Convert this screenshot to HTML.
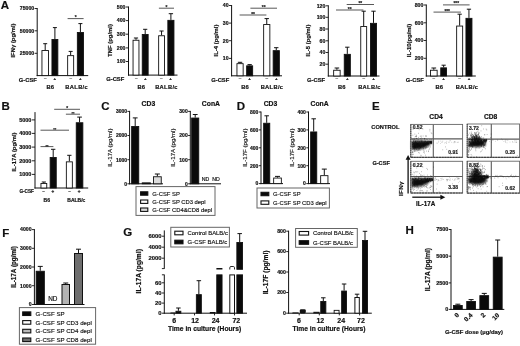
<!DOCTYPE html>
<html><head><meta charset="utf-8"><title>Figure</title>
<style>
html,body{margin:0;padding:0;background:#fff;}
body{width:520px;height:346px;overflow:hidden;}
svg{display:block;font-family:"Liberation Sans", Arial, sans-serif;}
</style></head><body>
<svg width="520" height="346" viewBox="0 0 520 346" style="filter:blur(0.35px)">
<defs><filter id="bl" x="-20%" y="-50%" width="140%" height="200%"><feGaussianBlur stdDeviation="0.85"/></filter></defs>
<rect x="0" y="0" width="520" height="346" fill="#fff"/>
<text x="0.8" y="9.0" font-size="11.5" font-weight="bold" text-anchor="start" fill="#111" stroke="#111" stroke-width="0.18">A</text>
<line x1="37.2" y1="8.0" x2="37.2" y2="76.1" stroke="#111" stroke-width="1"/>
<line x1="36.7" y1="75.6" x2="88.2" y2="75.6" stroke="#111" stroke-width="1"/>
<line x1="34.6" y1="8.5" x2="37.2" y2="8.5" stroke="#111" stroke-width="0.9"/>
<text x="34.2" y="10.372" font-size="5.2" font-weight="bold" text-anchor="end" fill="#111" stroke="#111" stroke-width="0.18">75000</text>
<line x1="34.6" y1="30.8" x2="37.2" y2="30.8" stroke="#111" stroke-width="0.9"/>
<text x="34.2" y="32.672" font-size="5.2" font-weight="bold" text-anchor="end" fill="#111" stroke="#111" stroke-width="0.18">50000</text>
<line x1="34.6" y1="53.3" x2="37.2" y2="53.3" stroke="#111" stroke-width="0.9"/>
<text x="34.2" y="55.172" font-size="5.2" font-weight="bold" text-anchor="end" fill="#111" stroke="#111" stroke-width="0.18">25000</text>
<line x1="45.2" y1="50.1" x2="45.2" y2="43.7" stroke="#111" stroke-width="1.0"/>
<line x1="43.2" y1="43.7" x2="47.2" y2="43.7" stroke="#111" stroke-width="1.0"/>
<rect x="41.95" y="50.55" width="6.50" height="25.05" fill="#fff" stroke="#111" stroke-width="0.9"/>
<line x1="54.9" y1="39" x2="54.9" y2="27.6" stroke="#111" stroke-width="1.0"/>
<line x1="52.9" y1="27.6" x2="56.9" y2="27.6" stroke="#111" stroke-width="1.0"/>
<rect x="51.95" y="39.45" width="5.90" height="36.15" fill="#0a0a0a" stroke="#111" stroke-width="0.9"/>
<line x1="70.65" y1="55.2" x2="70.65" y2="51.4" stroke="#111" stroke-width="1.0"/>
<line x1="68.65" y1="51.4" x2="72.65" y2="51.4" stroke="#111" stroke-width="1.0"/>
<rect x="67.65" y="55.65" width="6.00" height="19.95" fill="#fff" stroke="#111" stroke-width="0.9"/>
<line x1="80.4" y1="32" x2="80.4" y2="23.6" stroke="#111" stroke-width="1.0"/>
<line x1="78.4" y1="23.6" x2="82.4" y2="23.6" stroke="#111" stroke-width="1.0"/>
<rect x="77.35" y="32.45" width="6.10" height="43.15" fill="#0a0a0a" stroke="#111" stroke-width="0.9"/>
<text x="15.2" y="40.5" font-size="5.9" font-weight="bold" text-anchor="middle" fill="#111" stroke="#111" stroke-width="0.18" transform="rotate(-90 15.2 40.5)">IFNγ (pg/ml)</text>
<text x="18.8" y="81.8" font-size="5.8" font-weight="bold" text-anchor="start" fill="#111" stroke="#111" stroke-width="0.18">G-CSF</text>
<text x="45.2" y="80.2" font-size="4.6" font-weight="normal" text-anchor="middle" fill="#777" stroke="#777" stroke-width="0.18">–</text>
<text x="54.8" y="80.0" font-size="4.4" font-weight="bold" text-anchor="middle" fill="#111" stroke="#111" stroke-width="0.18">+</text>
<text x="70.8" y="80.2" font-size="4.6" font-weight="normal" text-anchor="middle" fill="#777" stroke="#777" stroke-width="0.18">–</text>
<text x="80.4" y="80.0" font-size="4.4" font-weight="bold" text-anchor="middle" fill="#111" stroke="#111" stroke-width="0.18">+</text>
<text x="50.3" y="88.8" font-size="5.8" font-weight="bold" text-anchor="middle" fill="#111" stroke="#111" stroke-width="0.18">B6</text>
<text x="76.7" y="88.8" font-size="5.8" font-weight="bold" text-anchor="middle" fill="#111" stroke="#111" stroke-width="0.18" letter-spacing="0.3">BALB/c</text>
<line x1="67.6" y1="18.6" x2="83.6" y2="18.6" stroke="#3a3a3a" stroke-width="0.85"/>
<text x="75.6" y="19.1" font-size="4.8" font-weight="bold" text-anchor="middle" fill="#222" stroke="#222" stroke-width="0.18">*</text>
<line x1="128.5" y1="6.5" x2="128.5" y2="75.6" stroke="#111" stroke-width="1"/>
<line x1="128.0" y1="75.1" x2="177.5" y2="75.1" stroke="#111" stroke-width="1"/>
<line x1="125.9" y1="7" x2="128.5" y2="7" stroke="#111" stroke-width="0.9"/>
<text x="125.5" y="8.872" font-size="5.2" font-weight="bold" text-anchor="end" fill="#111" stroke="#111" stroke-width="0.18">500</text>
<line x1="125.9" y1="20.6" x2="128.5" y2="20.6" stroke="#111" stroke-width="0.9"/>
<text x="125.5" y="22.472" font-size="5.2" font-weight="bold" text-anchor="end" fill="#111" stroke="#111" stroke-width="0.18">400</text>
<line x1="125.9" y1="34.2" x2="128.5" y2="34.2" stroke="#111" stroke-width="0.9"/>
<text x="125.5" y="36.072" font-size="5.2" font-weight="bold" text-anchor="end" fill="#111" stroke="#111" stroke-width="0.18">300</text>
<line x1="125.9" y1="47.9" x2="128.5" y2="47.9" stroke="#111" stroke-width="0.9"/>
<text x="125.5" y="49.772" font-size="5.2" font-weight="bold" text-anchor="end" fill="#111" stroke="#111" stroke-width="0.18">200</text>
<line x1="125.9" y1="61.5" x2="128.5" y2="61.5" stroke="#111" stroke-width="0.9"/>
<text x="125.5" y="63.372" font-size="5.2" font-weight="bold" text-anchor="end" fill="#111" stroke="#111" stroke-width="0.18">100</text>
<line x1="136.0" y1="39.8" x2="136.0" y2="38" stroke="#111" stroke-width="1.0"/>
<line x1="133.892" y1="38" x2="138.108" y2="38" stroke="#111" stroke-width="1.0"/>
<rect x="133.05" y="40.25" width="5.90" height="34.85" fill="#fff" stroke="#111" stroke-width="0.9"/>
<line x1="145.2" y1="34" x2="145.2" y2="29.3" stroke="#111" stroke-width="1.0"/>
<line x1="143.09199999999998" y1="29.3" x2="147.308" y2="29.3" stroke="#111" stroke-width="1.0"/>
<rect x="142.25" y="34.45" width="5.90" height="40.65" fill="#0a0a0a" stroke="#111" stroke-width="0.9"/>
<line x1="161.55" y1="35.3" x2="161.55" y2="31" stroke="#111" stroke-width="1.0"/>
<line x1="159.473" y1="31" x2="163.627" y2="31" stroke="#111" stroke-width="1.0"/>
<rect x="158.65" y="35.75" width="5.80" height="39.35" fill="#fff" stroke="#111" stroke-width="0.9"/>
<line x1="170.9" y1="19.9" x2="170.9" y2="13.7" stroke="#111" stroke-width="1.0"/>
<line x1="168.73000000000002" y1="13.7" x2="173.07" y2="13.7" stroke="#111" stroke-width="1.0"/>
<rect x="167.85" y="20.35" width="6.10" height="54.75" fill="#0a0a0a" stroke="#111" stroke-width="0.9"/>
<text x="111.6" y="40.5" font-size="5.9" font-weight="bold" text-anchor="middle" fill="#111" stroke="#111" stroke-width="0.18" transform="rotate(-90 111.6 40.5)">TNF (pg/ml)</text>
<text x="106.2" y="81" font-size="5.8" font-weight="bold" text-anchor="start" fill="#111" stroke="#111" stroke-width="0.18">G-CSF</text>
<text x="136.2" y="80.2" font-size="4.6" font-weight="normal" text-anchor="middle" fill="#777" stroke="#777" stroke-width="0.18">–</text>
<text x="145.2" y="80.0" font-size="4.4" font-weight="bold" text-anchor="middle" fill="#111" stroke="#111" stroke-width="0.18">+</text>
<text x="161.4" y="80.2" font-size="4.6" font-weight="normal" text-anchor="middle" fill="#777" stroke="#777" stroke-width="0.18">–</text>
<text x="170.6" y="80.0" font-size="4.4" font-weight="bold" text-anchor="middle" fill="#111" stroke="#111" stroke-width="0.18">+</text>
<text x="141.3" y="88.8" font-size="5.8" font-weight="bold" text-anchor="middle" fill="#111" stroke="#111" stroke-width="0.18">B6</text>
<text x="166.5" y="88.8" font-size="5.8" font-weight="bold" text-anchor="middle" fill="#111" stroke="#111" stroke-width="0.18" letter-spacing="0.3">BALB/c</text>
<line x1="158.9" y1="8.2" x2="174" y2="8.2" stroke="#3a3a3a" stroke-width="0.85"/>
<text x="166.45" y="8.7" font-size="4.8" font-weight="bold" text-anchor="middle" fill="#222" stroke="#222" stroke-width="0.18">*</text>
<line x1="231.6" y1="5.0" x2="231.6" y2="76.3" stroke="#111" stroke-width="1"/>
<line x1="231.1" y1="75.8" x2="282" y2="75.8" stroke="#111" stroke-width="1"/>
<line x1="229.0" y1="5.5" x2="231.6" y2="5.5" stroke="#111" stroke-width="0.9"/>
<text x="228.6" y="7.372" font-size="5.2" font-weight="bold" text-anchor="end" fill="#111" stroke="#111" stroke-width="0.18">40</text>
<line x1="229.0" y1="23.1" x2="231.6" y2="23.1" stroke="#111" stroke-width="0.9"/>
<text x="228.6" y="24.972" font-size="5.2" font-weight="bold" text-anchor="end" fill="#111" stroke="#111" stroke-width="0.18">30</text>
<line x1="229.0" y1="40.7" x2="231.6" y2="40.7" stroke="#111" stroke-width="0.9"/>
<text x="228.6" y="42.572" font-size="5.2" font-weight="bold" text-anchor="end" fill="#111" stroke="#111" stroke-width="0.18">20</text>
<line x1="229.0" y1="58.4" x2="231.6" y2="58.4" stroke="#111" stroke-width="0.9"/>
<text x="228.6" y="60.272" font-size="5.2" font-weight="bold" text-anchor="end" fill="#111" stroke="#111" stroke-width="0.18">10</text>
<line x1="240.05" y1="63.2" x2="240.05" y2="62.3" stroke="#111" stroke-width="1.0"/>
<line x1="237.84900000000002" y1="62.3" x2="242.251" y2="62.3" stroke="#111" stroke-width="1.0"/>
<rect x="236.95" y="63.65" width="6.20" height="12.15" fill="#fff" stroke="#111" stroke-width="0.9"/>
<line x1="249.64999999999998" y1="65.4" x2="249.64999999999998" y2="64.6" stroke="#111" stroke-width="1.0"/>
<line x1="247.51099999999997" y1="64.6" x2="251.789" y2="64.6" stroke="#111" stroke-width="1.0"/>
<rect x="246.65" y="65.85" width="6.00" height="9.95" fill="#0a0a0a" stroke="#111" stroke-width="0.9"/>
<line x1="266.75" y1="24.1" x2="266.75" y2="18.6" stroke="#111" stroke-width="1.0"/>
<line x1="264.549" y1="18.6" x2="268.951" y2="18.6" stroke="#111" stroke-width="1.0"/>
<rect x="263.65" y="24.55" width="6.20" height="51.25" fill="#fff" stroke="#111" stroke-width="0.9"/>
<line x1="276.25" y1="50.2" x2="276.25" y2="47.7" stroke="#111" stroke-width="1.0"/>
<line x1="274.049" y1="47.7" x2="278.451" y2="47.7" stroke="#111" stroke-width="1.0"/>
<rect x="273.15" y="50.65" width="6.20" height="25.15" fill="#0a0a0a" stroke="#111" stroke-width="0.9"/>
<text x="218.4" y="40.5" font-size="5.9" font-weight="bold" text-anchor="middle" fill="#111" stroke="#111" stroke-width="0.18" transform="rotate(-90 218.4 40.5)">IL-4 (pg/ml)</text>
<text x="211.2" y="82" font-size="5.8" font-weight="bold" text-anchor="start" fill="#111" stroke="#111" stroke-width="0.18">G-CSF</text>
<text x="240.1" y="80.2" font-size="4.6" font-weight="normal" text-anchor="middle" fill="#777" stroke="#777" stroke-width="0.18">–</text>
<text x="249.6" y="80.0" font-size="4.4" font-weight="bold" text-anchor="middle" fill="#111" stroke="#111" stroke-width="0.18">+</text>
<text x="266.7" y="80.2" font-size="4.6" font-weight="normal" text-anchor="middle" fill="#777" stroke="#777" stroke-width="0.18">–</text>
<text x="276.3" y="80.0" font-size="4.4" font-weight="bold" text-anchor="middle" fill="#111" stroke="#111" stroke-width="0.18">+</text>
<text x="245" y="88.8" font-size="5.8" font-weight="bold" text-anchor="middle" fill="#111" stroke="#111" stroke-width="0.18">B6</text>
<text x="272" y="88.8" font-size="5.8" font-weight="bold" text-anchor="middle" fill="#111" stroke="#111" stroke-width="0.18" letter-spacing="0.3">BALB/c</text>
<line x1="239.6" y1="15" x2="266.4" y2="15" stroke="#3a3a3a" stroke-width="0.85"/>
<text x="253.0" y="15.5" font-size="4.8" font-weight="bold" text-anchor="middle" fill="#222" stroke="#222" stroke-width="0.18">**</text>
<line x1="250.4" y1="8.2" x2="277" y2="8.2" stroke="#3a3a3a" stroke-width="0.85"/>
<text x="263.7" y="8.7" font-size="4.8" font-weight="bold" text-anchor="middle" fill="#222" stroke="#222" stroke-width="0.18">**</text>
<line x1="328.3" y1="5.3" x2="328.3" y2="76.5" stroke="#111" stroke-width="1"/>
<line x1="327.8" y1="76" x2="379.5" y2="76" stroke="#111" stroke-width="1"/>
<line x1="325.7" y1="5.8" x2="328.3" y2="5.8" stroke="#111" stroke-width="0.9"/>
<text x="325.3" y="7.672" font-size="5.2" font-weight="bold" text-anchor="end" fill="#111" stroke="#111" stroke-width="0.18">120</text>
<line x1="325.7" y1="17.3" x2="328.3" y2="17.3" stroke="#111" stroke-width="0.9"/>
<text x="325.3" y="19.172" font-size="5.2" font-weight="bold" text-anchor="end" fill="#111" stroke="#111" stroke-width="0.18">100</text>
<line x1="325.7" y1="29" x2="328.3" y2="29" stroke="#111" stroke-width="0.9"/>
<text x="325.3" y="30.872" font-size="5.2" font-weight="bold" text-anchor="end" fill="#111" stroke="#111" stroke-width="0.18">80</text>
<line x1="325.7" y1="40.8" x2="328.3" y2="40.8" stroke="#111" stroke-width="0.9"/>
<text x="325.3" y="42.672" font-size="5.2" font-weight="bold" text-anchor="end" fill="#111" stroke="#111" stroke-width="0.18">60</text>
<line x1="325.7" y1="52.5" x2="328.3" y2="52.5" stroke="#111" stroke-width="0.9"/>
<text x="325.3" y="54.372" font-size="5.2" font-weight="bold" text-anchor="end" fill="#111" stroke="#111" stroke-width="0.18">40</text>
<line x1="325.7" y1="64.2" x2="328.3" y2="64.2" stroke="#111" stroke-width="0.9"/>
<text x="325.3" y="66.072" font-size="5.2" font-weight="bold" text-anchor="end" fill="#111" stroke="#111" stroke-width="0.18">20</text>
<line x1="336.9" y1="69.8" x2="336.9" y2="68" stroke="#111" stroke-width="1.0"/>
<line x1="334.606" y1="68" x2="339.19399999999996" y2="68" stroke="#111" stroke-width="1.0"/>
<rect x="333.65" y="70.25" width="6.50" height="5.75" fill="#fff" stroke="#111" stroke-width="0.9"/>
<line x1="347.3" y1="53.9" x2="347.3" y2="47.2" stroke="#111" stroke-width="1.0"/>
<line x1="345.13" y1="47.2" x2="349.47" y2="47.2" stroke="#111" stroke-width="1.0"/>
<rect x="344.25" y="54.35" width="6.10" height="21.65" fill="#0a0a0a" stroke="#111" stroke-width="0.9"/>
<line x1="363.70000000000005" y1="26.1" x2="363.70000000000005" y2="11.2" stroke="#111" stroke-width="1.0"/>
<line x1="361.59200000000004" y1="11.2" x2="365.80800000000005" y2="11.2" stroke="#111" stroke-width="1.0"/>
<rect x="360.75" y="26.55" width="5.90" height="49.45" fill="#fff" stroke="#111" stroke-width="0.9"/>
<line x1="373.5" y1="22.9" x2="373.5" y2="11.2" stroke="#111" stroke-width="1.0"/>
<line x1="371.33" y1="11.2" x2="375.67" y2="11.2" stroke="#111" stroke-width="1.0"/>
<rect x="370.45" y="23.35" width="6.10" height="52.65" fill="#0a0a0a" stroke="#111" stroke-width="0.9"/>
<text x="309.8" y="40.5" font-size="5.9" font-weight="bold" text-anchor="middle" fill="#111" stroke="#111" stroke-width="0.18" transform="rotate(-90 309.8 40.5)">IL-5 (pg/ml)</text>
<text x="307" y="82" font-size="5.8" font-weight="bold" text-anchor="start" fill="#111" stroke="#111" stroke-width="0.18">G-CSF</text>
<text x="336.9" y="80.2" font-size="4.6" font-weight="normal" text-anchor="middle" fill="#777" stroke="#777" stroke-width="0.18">–</text>
<text x="347.3" y="80.0" font-size="4.4" font-weight="bold" text-anchor="middle" fill="#111" stroke="#111" stroke-width="0.18">+</text>
<text x="363.7" y="80.2" font-size="4.6" font-weight="normal" text-anchor="middle" fill="#777" stroke="#777" stroke-width="0.18">–</text>
<text x="373.5" y="80.0" font-size="4.4" font-weight="bold" text-anchor="middle" fill="#111" stroke="#111" stroke-width="0.18">+</text>
<text x="341.8" y="88.8" font-size="5.8" font-weight="bold" text-anchor="middle" fill="#111" stroke="#111" stroke-width="0.18">B6</text>
<text x="369.5" y="88.8" font-size="5.8" font-weight="bold" text-anchor="middle" fill="#111" stroke="#111" stroke-width="0.18" letter-spacing="0.3">BALB/c</text>
<line x1="336" y1="10" x2="363.4" y2="10" stroke="#3a3a3a" stroke-width="0.85"/>
<text x="349.7" y="10.5" font-size="4.8" font-weight="bold" text-anchor="middle" fill="#222" stroke="#222" stroke-width="0.18">**</text>
<line x1="346.7" y1="4.5" x2="374" y2="4.5" stroke="#3a3a3a" stroke-width="0.85"/>
<text x="360.35" y="5.0" font-size="4.8" font-weight="bold" text-anchor="middle" fill="#222" stroke="#222" stroke-width="0.18">**</text>
<line x1="426.3" y1="4.5" x2="426.3" y2="76.5" stroke="#111" stroke-width="1"/>
<line x1="425.8" y1="76" x2="475.8" y2="76" stroke="#111" stroke-width="1"/>
<line x1="423.7" y1="5" x2="426.3" y2="5" stroke="#111" stroke-width="0.9"/>
<text x="423.3" y="6.872" font-size="5.2" font-weight="bold" text-anchor="end" fill="#111" stroke="#111" stroke-width="0.18">800</text>
<line x1="423.7" y1="22.8" x2="426.3" y2="22.8" stroke="#111" stroke-width="0.9"/>
<text x="423.3" y="24.672" font-size="5.2" font-weight="bold" text-anchor="end" fill="#111" stroke="#111" stroke-width="0.18">600</text>
<line x1="423.7" y1="40.5" x2="426.3" y2="40.5" stroke="#111" stroke-width="0.9"/>
<text x="423.3" y="42.372" font-size="5.2" font-weight="bold" text-anchor="end" fill="#111" stroke="#111" stroke-width="0.18">400</text>
<line x1="423.7" y1="58.3" x2="426.3" y2="58.3" stroke="#111" stroke-width="0.9"/>
<text x="423.3" y="60.172" font-size="5.2" font-weight="bold" text-anchor="end" fill="#111" stroke="#111" stroke-width="0.18">200</text>
<line x1="433.8" y1="69.8" x2="433.8" y2="68" stroke="#111" stroke-width="1.0"/>
<line x1="431.444" y1="68" x2="436.156" y2="68" stroke="#111" stroke-width="1.0"/>
<rect x="430.45" y="70.25" width="6.70" height="5.75" fill="#fff" stroke="#111" stroke-width="0.9"/>
<line x1="443.65" y1="67.4" x2="443.65" y2="65.2" stroke="#111" stroke-width="1.0"/>
<line x1="441.573" y1="65.2" x2="445.727" y2="65.2" stroke="#111" stroke-width="1.0"/>
<rect x="440.75" y="67.85" width="5.80" height="8.15" fill="#0a0a0a" stroke="#111" stroke-width="0.9"/>
<line x1="459.65" y1="25.6" x2="459.65" y2="14.2" stroke="#111" stroke-width="1.0"/>
<line x1="457.51099999999997" y1="14.2" x2="461.789" y2="14.2" stroke="#111" stroke-width="1.0"/>
<rect x="456.65" y="26.05" width="6.00" height="49.95" fill="#fff" stroke="#111" stroke-width="0.9"/>
<line x1="468.95" y1="17.9" x2="468.95" y2="9.2" stroke="#111" stroke-width="1.0"/>
<line x1="466.811" y1="9.2" x2="471.089" y2="9.2" stroke="#111" stroke-width="1.0"/>
<rect x="465.95" y="18.35" width="6.00" height="57.65" fill="#0a0a0a" stroke="#111" stroke-width="0.9"/>
<text x="410.6" y="40.5" font-size="5.9" font-weight="bold" text-anchor="middle" fill="#111" stroke="#111" stroke-width="0.18" transform="rotate(-90 410.6 40.5)">IL-10(pg/ml)</text>
<text x="405.8" y="82" font-size="5.8" font-weight="bold" text-anchor="start" fill="#111" stroke="#111" stroke-width="0.18">G-CSF</text>
<text x="433.8" y="80.2" font-size="4.6" font-weight="normal" text-anchor="middle" fill="#777" stroke="#777" stroke-width="0.18">–</text>
<text x="443.6" y="80.0" font-size="4.4" font-weight="bold" text-anchor="middle" fill="#111" stroke="#111" stroke-width="0.18">+</text>
<text x="459.6" y="80.2" font-size="4.6" font-weight="normal" text-anchor="middle" fill="#777" stroke="#777" stroke-width="0.18">–</text>
<text x="469" y="80.0" font-size="4.4" font-weight="bold" text-anchor="middle" fill="#111" stroke="#111" stroke-width="0.18">+</text>
<text x="439.2" y="88.8" font-size="5.8" font-weight="bold" text-anchor="middle" fill="#111" stroke="#111" stroke-width="0.18">B6</text>
<text x="467" y="88.8" font-size="5.8" font-weight="bold" text-anchor="middle" fill="#111" stroke="#111" stroke-width="0.18" letter-spacing="0.3">BALB/c</text>
<line x1="433.5" y1="12.1" x2="460.9" y2="12.1" stroke="#3a3a3a" stroke-width="0.85"/>
<text x="447.2" y="12.6" font-size="4.8" font-weight="bold" text-anchor="middle" fill="#222" stroke="#222" stroke-width="0.18">***</text>
<line x1="443" y1="4.9" x2="469.6" y2="4.9" stroke="#3a3a3a" stroke-width="0.85"/>
<text x="456.3" y="5.4" font-size="4.8" font-weight="bold" text-anchor="middle" fill="#222" stroke="#222" stroke-width="0.18">***</text>
<text x="1.6" y="109.8" font-size="11.5" font-weight="bold" text-anchor="start" fill="#111" stroke="#111" stroke-width="0.18">B</text>
<line x1="35" y1="112.1" x2="35" y2="188.5" stroke="#111" stroke-width="1"/>
<line x1="34.5" y1="188" x2="88.2" y2="188" stroke="#111" stroke-width="1"/>
<line x1="31.8" y1="119.9" x2="35" y2="119.9" stroke="#111" stroke-width="0.9"/>
<text x="31.400000000000002" y="121.88000000000001" font-size="5.5" font-weight="bold" text-anchor="end" fill="#111" stroke="#111" stroke-width="0.18">5000</text>
<line x1="31.8" y1="133.4" x2="35" y2="133.4" stroke="#111" stroke-width="0.9"/>
<text x="31.400000000000002" y="135.38" font-size="5.5" font-weight="bold" text-anchor="end" fill="#111" stroke="#111" stroke-width="0.18">4000</text>
<line x1="31.8" y1="147.1" x2="35" y2="147.1" stroke="#111" stroke-width="0.9"/>
<text x="31.400000000000002" y="149.07999999999998" font-size="5.5" font-weight="bold" text-anchor="end" fill="#111" stroke="#111" stroke-width="0.18">3000</text>
<line x1="31.8" y1="160.8" x2="35" y2="160.8" stroke="#111" stroke-width="0.9"/>
<text x="31.400000000000002" y="162.78" font-size="5.5" font-weight="bold" text-anchor="end" fill="#111" stroke="#111" stroke-width="0.18">2000</text>
<line x1="31.8" y1="174.4" x2="35" y2="174.4" stroke="#111" stroke-width="0.9"/>
<text x="31.400000000000002" y="176.38" font-size="5.5" font-weight="bold" text-anchor="end" fill="#111" stroke="#111" stroke-width="0.18">1000</text>
<line x1="43.85" y1="183" x2="43.85" y2="182" stroke="#111" stroke-width="1.0"/>
<line x1="41.773" y1="182" x2="45.927" y2="182" stroke="#111" stroke-width="1.0"/>
<rect x="40.95" y="183.45" width="5.80" height="4.55" fill="#fff" stroke="#111" stroke-width="0.9"/>
<line x1="53.2" y1="157" x2="53.2" y2="149.3" stroke="#111" stroke-width="1.0"/>
<line x1="51.03" y1="149.3" x2="55.370000000000005" y2="149.3" stroke="#111" stroke-width="1.0"/>
<rect x="50.15" y="157.45" width="6.10" height="30.55" fill="#0a0a0a" stroke="#111" stroke-width="0.9"/>
<line x1="69.35" y1="161.4" x2="69.35" y2="155.3" stroke="#111" stroke-width="1.0"/>
<line x1="67.211" y1="155.3" x2="71.48899999999999" y2="155.3" stroke="#111" stroke-width="1.0"/>
<rect x="66.35" y="161.85" width="6.00" height="26.15" fill="#fff" stroke="#111" stroke-width="0.9"/>
<line x1="79.55" y1="122.3" x2="79.55" y2="117.1" stroke="#111" stroke-width="1.0"/>
<line x1="77.225" y1="117.1" x2="81.875" y2="117.1" stroke="#111" stroke-width="1.0"/>
<rect x="76.25" y="122.75" width="6.60" height="65.25" fill="#0a0a0a" stroke="#111" stroke-width="0.9"/>
<line x1="54.2" y1="109.3" x2="80" y2="109.3" stroke="#3a3a3a" stroke-width="0.85"/>
<text x="67.1" y="109.8" font-size="4.8" font-weight="bold" text-anchor="middle" fill="#222" stroke="#222" stroke-width="0.18">*</text>
<line x1="65.9" y1="114.2" x2="80" y2="114.2" stroke="#3a3a3a" stroke-width="0.85"/>
<text x="72.95" y="115.2" font-size="3.8" font-weight="bold" text-anchor="middle" fill="#222" stroke="#222" stroke-width="0.18">**</text>
<line x1="40.5" y1="130.2" x2="69" y2="130.2" stroke="#3a3a3a" stroke-width="0.85"/>
<text x="54.75" y="131.2" font-size="3.8" font-weight="bold" text-anchor="middle" fill="#222" stroke="#222" stroke-width="0.18">**</text>
<line x1="40.5" y1="146.6" x2="53.4" y2="146.6" stroke="#3a3a3a" stroke-width="0.85"/>
<text x="46.95" y="147.79999999999998" font-size="3.8" font-weight="bold" text-anchor="middle" fill="#222" stroke="#222" stroke-width="0.18">**</text>
<text x="15.6" y="152" font-size="5.9" font-weight="bold" text-anchor="middle" fill="#111" stroke="#111" stroke-width="0.18" transform="rotate(-90 15.6 152)">IL-17A (pg/ml)</text>
<text x="19.4" y="193.2" font-size="4.7" font-weight="bold" text-anchor="start" fill="#111" stroke="#111" stroke-width="0.18">G-CSF</text>
<text x="43.5" y="192.6" font-size="4.6" font-weight="bold" text-anchor="middle" fill="#111" stroke="#111" stroke-width="0.18">–</text>
<text x="52.9" y="192.6" font-size="4.6" font-weight="bold" text-anchor="middle" fill="#111" stroke="#111" stroke-width="0.18">+</text>
<text x="69.6" y="192.6" font-size="4.6" font-weight="bold" text-anchor="middle" fill="#111" stroke="#111" stroke-width="0.18">–</text>
<text x="79" y="192.6" font-size="4.6" font-weight="bold" text-anchor="middle" fill="#111" stroke="#111" stroke-width="0.18">+</text>
<text x="46.8" y="202" font-size="5" font-weight="bold" text-anchor="middle" fill="#111" stroke="#111" stroke-width="0.18">B6</text>
<text x="76.3" y="202" font-size="5" font-weight="bold" text-anchor="middle" fill="#111" stroke="#111" stroke-width="0.18">BALB/c</text>
<text x="101.2" y="110" font-size="11.5" font-weight="bold" text-anchor="start" fill="#111" stroke="#111" stroke-width="0.18">C</text>
<text x="148.4" y="106.2" font-size="6.8" font-weight="bold" text-anchor="middle" fill="#111" stroke="#111" stroke-width="0.18">CD3</text>
<text x="210.9" y="106" font-size="6.8" font-weight="bold" text-anchor="middle" fill="#111" stroke="#111" stroke-width="0.18">ConA</text>
<line x1="129.6" y1="110.9" x2="129.6" y2="184.3" stroke="#111" stroke-width="1"/>
<line x1="129.1" y1="183.8" x2="163" y2="183.8" stroke="#111" stroke-width="1"/>
<line x1="127.39999999999999" y1="111.4" x2="129.6" y2="111.4" stroke="#111" stroke-width="0.9"/>
<text x="126.99999999999999" y="113.2" font-size="5.0" font-weight="bold" text-anchor="end" fill="#111" stroke="#111" stroke-width="0.18">3000</text>
<line x1="127.39999999999999" y1="135.5" x2="129.6" y2="135.5" stroke="#111" stroke-width="0.9"/>
<text x="126.99999999999999" y="137.3" font-size="5.0" font-weight="bold" text-anchor="end" fill="#111" stroke="#111" stroke-width="0.18">2000</text>
<line x1="127.39999999999999" y1="159.7" x2="129.6" y2="159.7" stroke="#111" stroke-width="0.9"/>
<text x="126.99999999999999" y="161.5" font-size="5.0" font-weight="bold" text-anchor="end" fill="#111" stroke="#111" stroke-width="0.18">1000</text>
<line x1="127.39999999999999" y1="183.8" x2="129.6" y2="183.8" stroke="#111" stroke-width="0.9"/>
<text x="126.99999999999999" y="185.60000000000002" font-size="5.0" font-weight="bold" text-anchor="end" fill="#111" stroke="#111" stroke-width="0.18">0</text>
<line x1="135.2" y1="126" x2="135.2" y2="117.9" stroke="#111" stroke-width="1.0"/>
<line x1="132.79999999999998" y1="117.9" x2="137.6" y2="117.9" stroke="#111" stroke-width="1.0"/>
<rect x="131.65" y="126.45" width="7.10" height="57.35" fill="#0a0a0a" stroke="#111" stroke-width="0.9"/>
<rect x="142.25" y="182.85" width="8.10" height="0.95" fill="#333" stroke="#111" stroke-width="0.9"/>
<line x1="157.35" y1="176.3" x2="157.35" y2="174" stroke="#111" stroke-width="1.0"/>
<line x1="154.85" y1="174" x2="159.85" y2="174" stroke="#111" stroke-width="1.0"/>
<rect x="153.45" y="176.75" width="7.80" height="7.05" fill="#ddd" stroke="#111" stroke-width="0.9"/>
<text x="111.9" y="147.7" font-size="6.1" font-weight="normal" text-anchor="middle" fill="#111" stroke="#111" stroke-width="0.15" transform="rotate(-90 111.9 147.7)">IL-17A (pg/ml)</text>
<line x1="190.3" y1="110.9" x2="190.3" y2="184.3" stroke="#111" stroke-width="1"/>
<line x1="189.8" y1="183.8" x2="221" y2="183.8" stroke="#111" stroke-width="1"/>
<line x1="188.10000000000002" y1="111.4" x2="190.3" y2="111.4" stroke="#111" stroke-width="0.9"/>
<text x="187.70000000000002" y="113.2" font-size="5.0" font-weight="bold" text-anchor="end" fill="#111" stroke="#111" stroke-width="0.18">300</text>
<line x1="188.10000000000002" y1="135.5" x2="190.3" y2="135.5" stroke="#111" stroke-width="0.9"/>
<text x="187.70000000000002" y="137.3" font-size="5.0" font-weight="bold" text-anchor="end" fill="#111" stroke="#111" stroke-width="0.18">200</text>
<line x1="188.10000000000002" y1="159.7" x2="190.3" y2="159.7" stroke="#111" stroke-width="0.9"/>
<text x="187.70000000000002" y="161.5" font-size="5.0" font-weight="bold" text-anchor="end" fill="#111" stroke="#111" stroke-width="0.18">100</text>
<line x1="188.10000000000002" y1="183.8" x2="190.3" y2="183.8" stroke="#111" stroke-width="0.9"/>
<text x="187.70000000000002" y="185.60000000000002" font-size="5.0" font-weight="bold" text-anchor="end" fill="#111" stroke="#111" stroke-width="0.18">0</text>
<line x1="195.2" y1="117.6" x2="195.2" y2="114.5" stroke="#111" stroke-width="1.0"/>
<line x1="192.79999999999998" y1="114.5" x2="197.6" y2="114.5" stroke="#111" stroke-width="1.0"/>
<rect x="191.65" y="118.05" width="7.10" height="65.75" fill="#0a0a0a" stroke="#111" stroke-width="0.9"/>
<text x="205.5" y="180.6" font-size="5.2" font-weight="normal" text-anchor="middle" fill="#111" stroke="#111" stroke-width="0.18">ND</text>
<text x="215.9" y="180.6" font-size="5.2" font-weight="normal" text-anchor="middle" fill="#111" stroke="#111" stroke-width="0.18">ND</text>
<text x="175.2" y="147.7" font-size="6.1" font-weight="normal" text-anchor="middle" fill="#111" stroke="#111" stroke-width="0.15" transform="rotate(-90 175.2 147.7)">IL-17A (pg/ml)</text>
<rect x="136.00" y="186.60" width="79.00" height="28.80" fill="#fff" stroke="#666" stroke-width="1.0"/>
<rect x="140.60" y="191.80" width="7.20" height="3.40" fill="#0a0a0a" stroke="#111" stroke-width="1.1"/>
<text x="152.2" y="195.606" font-size="5.85" font-weight="normal" text-anchor="start" fill="#111" stroke="#111" stroke-width="0.15">G-CSF SP</text>
<rect x="140.60" y="200.00" width="7.20" height="3.40" fill="#fff" stroke="#111" stroke-width="1.1"/>
<text x="152.2" y="203.80599999999998" font-size="5.85" font-weight="normal" text-anchor="start" fill="#111" stroke="#111" stroke-width="0.15">G-CSF SP CD3 depl</text>
<rect x="140.60" y="208.00" width="7.20" height="3.40" fill="#ddd" stroke="#111" stroke-width="1.1"/>
<text x="152.2" y="211.80599999999998" font-size="5.85" font-weight="normal" text-anchor="start" fill="#111" stroke="#111" stroke-width="0.15">G-CSF CD4&amp;CD8 depl</text>
<text x="236.8" y="110" font-size="11.5" font-weight="bold" text-anchor="start" fill="#111" stroke="#111" stroke-width="0.18">D</text>
<text x="270.5" y="105.8" font-size="6.8" font-weight="bold" text-anchor="middle" fill="#111" stroke="#111" stroke-width="0.18">CD3</text>
<text x="319.6" y="105.8" font-size="6.8" font-weight="bold" text-anchor="middle" fill="#111" stroke="#111" stroke-width="0.18">ConA</text>
<line x1="261" y1="111.5" x2="261" y2="184.1" stroke="#111" stroke-width="1"/>
<line x1="260.5" y1="183.6" x2="283" y2="183.6" stroke="#111" stroke-width="1"/>
<line x1="258.8" y1="112" x2="261" y2="112" stroke="#111" stroke-width="0.9"/>
<text x="258.40000000000003" y="113.8" font-size="5.0" font-weight="bold" text-anchor="end" fill="#111" stroke="#111" stroke-width="0.18">800</text>
<line x1="258.8" y1="129.9" x2="261" y2="129.9" stroke="#111" stroke-width="0.9"/>
<text x="258.40000000000003" y="131.70000000000002" font-size="5.0" font-weight="bold" text-anchor="end" fill="#111" stroke="#111" stroke-width="0.18">600</text>
<line x1="258.8" y1="147.8" x2="261" y2="147.8" stroke="#111" stroke-width="0.9"/>
<text x="258.40000000000003" y="149.60000000000002" font-size="5.0" font-weight="bold" text-anchor="end" fill="#111" stroke="#111" stroke-width="0.18">400</text>
<line x1="258.8" y1="165.7" x2="261" y2="165.7" stroke="#111" stroke-width="0.9"/>
<text x="258.40000000000003" y="167.5" font-size="5.0" font-weight="bold" text-anchor="end" fill="#111" stroke="#111" stroke-width="0.18">200</text>
<line x1="258.8" y1="183.6" x2="261" y2="183.6" stroke="#111" stroke-width="0.9"/>
<text x="258.40000000000003" y="185.4" font-size="5.0" font-weight="bold" text-anchor="end" fill="#111" stroke="#111" stroke-width="0.18">0</text>
<line x1="266.7" y1="122.8" x2="266.7" y2="115.8" stroke="#111" stroke-width="1.0"/>
<line x1="264.45" y1="115.8" x2="268.95" y2="115.8" stroke="#111" stroke-width="1.0"/>
<rect x="263.65" y="123.25" width="6.10" height="60.35" fill="#0a0a0a" stroke="#111" stroke-width="0.9"/>
<line x1="277.5" y1="177.6" x2="277.5" y2="176.4" stroke="#111" stroke-width="1.0"/>
<line x1="275.0" y1="176.4" x2="280.0" y2="176.4" stroke="#111" stroke-width="1.0"/>
<rect x="273.65" y="178.05" width="7.70" height="5.55" fill="#fff" stroke="#111" stroke-width="0.9"/>
<text x="247.3" y="147.7" font-size="6.1" font-weight="normal" text-anchor="middle" fill="#111" stroke="#111" stroke-width="0.15" transform="rotate(-90 247.3 147.7)">IL-17F (pg/ml)</text>
<line x1="308.5" y1="111.5" x2="308.5" y2="184.1" stroke="#111" stroke-width="1"/>
<line x1="308.0" y1="183.6" x2="330" y2="183.6" stroke="#111" stroke-width="1"/>
<line x1="306.3" y1="112" x2="308.5" y2="112" stroke="#111" stroke-width="0.9"/>
<text x="305.90000000000003" y="113.8" font-size="5.0" font-weight="bold" text-anchor="end" fill="#111" stroke="#111" stroke-width="0.18">400</text>
<line x1="306.3" y1="129.9" x2="308.5" y2="129.9" stroke="#111" stroke-width="0.9"/>
<text x="305.90000000000003" y="131.70000000000002" font-size="5.0" font-weight="bold" text-anchor="end" fill="#111" stroke="#111" stroke-width="0.18">300</text>
<line x1="306.3" y1="147.8" x2="308.5" y2="147.8" stroke="#111" stroke-width="0.9"/>
<text x="305.90000000000003" y="149.60000000000002" font-size="5.0" font-weight="bold" text-anchor="end" fill="#111" stroke="#111" stroke-width="0.18">200</text>
<line x1="306.3" y1="165.7" x2="308.5" y2="165.7" stroke="#111" stroke-width="0.9"/>
<text x="305.90000000000003" y="167.5" font-size="5.0" font-weight="bold" text-anchor="end" fill="#111" stroke="#111" stroke-width="0.18">100</text>
<line x1="306.3" y1="183.6" x2="308.5" y2="183.6" stroke="#111" stroke-width="0.9"/>
<text x="305.90000000000003" y="185.4" font-size="5.0" font-weight="bold" text-anchor="end" fill="#111" stroke="#111" stroke-width="0.18">0</text>
<line x1="313.7" y1="131.5" x2="313.7" y2="118.8" stroke="#111" stroke-width="1.0"/>
<line x1="311.45" y1="118.8" x2="315.95" y2="118.8" stroke="#111" stroke-width="1.0"/>
<rect x="310.65" y="131.95" width="6.10" height="51.65" fill="#0a0a0a" stroke="#111" stroke-width="0.9"/>
<line x1="324.29999999999995" y1="175.2" x2="324.29999999999995" y2="169.1" stroke="#111" stroke-width="1.0"/>
<line x1="321.79999999999995" y1="169.1" x2="326.79999999999995" y2="169.1" stroke="#111" stroke-width="1.0"/>
<rect x="320.65" y="175.65" width="7.30" height="7.95" fill="#fff" stroke="#111" stroke-width="0.9"/>
<text x="294.5" y="147.7" font-size="6.1" font-weight="normal" text-anchor="middle" fill="#111" stroke="#111" stroke-width="0.15" transform="rotate(-90 294.5 147.7)">IL-17F (pg/ml)</text>
<rect x="257.00" y="188.00" width="72.40" height="20.00" fill="#fff" stroke="#666" stroke-width="1.0"/>
<rect x="261.00" y="192.30" width="7.80" height="3.40" fill="#0a0a0a" stroke="#111" stroke-width="1.1"/>
<text x="273" y="196.106" font-size="5.85" font-weight="normal" text-anchor="start" fill="#111" stroke="#111" stroke-width="0.15">G-CSF SP</text>
<rect x="261.00" y="200.90" width="7.80" height="3.40" fill="#fff" stroke="#111" stroke-width="1.1"/>
<text x="273" y="204.706" font-size="5.85" font-weight="normal" text-anchor="start" fill="#111" stroke="#111" stroke-width="0.15">G-CSF SP CD3 depl</text>
<text x="372" y="110" font-size="11.5" font-weight="bold" text-anchor="start" fill="#111" stroke="#111" stroke-width="0.18">E</text>
<text x="436" y="119" font-size="6.7" font-weight="bold" text-anchor="middle" fill="#111" stroke="#111" stroke-width="0.18">CD4</text>
<text x="490.6" y="118.8" font-size="6.7" font-weight="bold" text-anchor="middle" fill="#111" stroke="#111" stroke-width="0.18">CD8</text>
<text x="371.3" y="128.8" font-size="5.7" font-weight="bold" text-anchor="start" fill="#111" stroke="#111" stroke-width="0.18">CONTROL</text>
<text x="372.4" y="164.6" font-size="5.6" font-weight="bold" text-anchor="start" fill="#111" stroke="#111" stroke-width="0.18">G-CSF</text>
<line x1="433.3" y1="124.4" x2="433.3" y2="157.3" stroke="#5a5a5a" stroke-width="1.1"/>
<line x1="410.8" y1="138.9" x2="462.6" y2="138.9" stroke="#5a5a5a" stroke-width="1.1"/>
<g filter="url(#bl)" opacity="0.97"><path d="M411.6 141.3 L428 141.3 L432.5 142.3 L428 146 L423 148.8 L416 149.7 L411.6 149.2Z" fill="#0a0a0a"/></g>
<path d="M441.4 142.3h.6M452.9 142.7h.6M453.9 141.5h.6M446.5 141.4h.6M436.5 143.1h.6M448.8 142.0h.6M454.2 142.7h.6M438.5 141.2h.6M446.1 143.5h.6M440.3 143.5h.6M455.1 142.1h.6M437.3 143.2h.6M442.4 142.2h.6M451.3 142.3h.6M438.1 142.2h.6M444.0 143.0h.6M442.5 141.2h.6M440.5 141.1h.6M457.5 142.4h.6M454.5 141.9h.6M456.8 142.3h.6M454.6 141.7h.6M448.6 142.4h.6M458.2 142.2h.6" stroke="#222" stroke-width="0.6" fill="none" opacity="0.45"/>
<path d="M418.9 144.8h.6M413.6 143.7h.6M413.2 141.3h.6M421.1 141.5h.6M420.9 145.1h.6M424.8 144.2h.6M423.9 145.3h.6M413.0 144.2h.6M414.6 146.7h.6M416.0 145.2h.6M419.9 141.3h.6M413.3 146.0h.6M421.0 144.0h.6M421.5 145.0h.6M426.2 143.1h.6M422.9 144.7h.6M426.8 144.5h.6M414.6 146.3h.6M415.4 141.3h.6M425.6 139.0h.6M418.7 144.5h.6M423.9 144.7h.6M430.7 142.6h.6M413.3 145.8h.6M431.6 141.0h.6M418.2 145.0h.6M412.4 142.3h.6M414.6 146.4h.6M414.9 143.7h.6M429.4 142.3h.6M423.4 145.4h.6M418.0 143.2h.6M429.6 139.6h.6M415.3 142.6h.6M417.1 144.7h.6M417.7 143.6h.6M419.9 146.3h.6M426.0 143.3h.6M425.8 144.5h.6M427.7 143.2h.6M420.4 144.4h.6M413.3 142.5h.6M415.6 141.4h.6M411.7 141.8h.6M419.7 145.8h.6M424.6 142.1h.6M419.4 141.7h.6M429.0 140.9h.6M421.8 141.4h.6M414.3 142.9h.6M428.6 141.1h.6M430.8 141.4h.6M423.2 143.4h.6M431.3 141.8h.6M419.8 145.3h.6M423.0 141.4h.6M419.1 145.7h.6M431.4 142.9h.6M427.0 142.8h.6M419.6 141.2h.6M418.0 145.2h.6M430.9 143.3h.6M431.5 140.0h.6M419.8 142.3h.6M416.3 145.1h.6M429.9 140.2h.6M428.1 143.1h.6M430.1 142.6h.6M427.1 141.6h.6M427.9 143.6h.6M431.2 141.9h.6M430.7 141.4h.6M414.8 147.3h.6M428.2 143.6h.6M431.3 141.8h.6M423.4 141.1h.6M431.2 142.2h.6M430.5 143.2h.6M428.5 141.8h.6M418.3 144.5h.6M417.6 141.8h.6M430.1 142.2h.6M424.0 138.5h.6M422.4 143.5h.6M412.3 142.4h.6M411.8 149.4h.6M415.8 145.8h.6M423.5 143.3h.6M423.5 145.7h.6M417.4 145.8h.6M422.6 144.6h.6M430.1 142.6h.6M422.5 144.3h.6M421.5 143.4h.6M430.6 143.2h.6M430.7 142.4h.6M430.7 143.3h.6M415.0 144.0h.6M413.6 141.5h.6M425.6 143.9h.6M426.5 141.5h.6M429.6 141.9h.6M416.8 140.9h.6M431.5 143.0h.6M415.6 144.5h.6M419.3 142.8h.6M426.6 143.0h.6M421.3 142.7h.6M424.8 141.3h.6M431.4 142.7h.6M417.8 145.7h.6M417.9 143.6h.6M430.1 142.2h.6M417.6 146.6h.6M423.8 141.4h.6M413.2 144.1h.6M413.6 139.9h.6M413.8 139.3h.6M413.4 141.1h.6M423.4 143.9h.6M417.8 144.2h.6M417.2 142.0h.6M413.1 143.3h.6M418.6 143.0h.6M415.9 141.1h.6M417.5 145.5h.6M423.4 143.1h.6M430.5 143.1h.6M421.1 145.3h.6M420.3 144.7h.6M431.4 142.9h.6M426.3 142.5h.6M419.4 141.7h.6M413.5 142.9h.6M415.6 146.6h.6M429.4 141.8h.6M417.3 143.9h.6M415.5 142.8h.6M431.0 143.7h.6M423.3 145.4h.6M418.7 141.0h.6M420.1 143.7h.6M416.4 141.0h.6M417.7 143.4h.6M412.8 143.3h.6M417.1 144.3h.6M427.1 143.5h.6M429.5 141.9h.6M431.4 142.6h.6M425.1 144.4h.6M429.7 143.0h.6M428.3 142.6h.6M422.5 145.0h.6M424.0 139.0h.6M425.9 141.9h.6M412.6 143.7h.6M414.3 139.4h.6M424.8 143.0h.6M411.8 142.7h.6M427.1 142.9h.6M425.4 143.9h.6M417.5 142.6h.6M426.8 143.6h.6M431.3 141.9h.6M422.0 144.8h.6M424.7 141.3h.6M415.3 146.1h.6M418.6 141.1h.6M413.3 145.9h.6M426.1 142.1h.6M422.7 143.2h.6M414.6 147.8h.6M430.5 142.2h.6M428.4 147.0h.6M421.4 142.1h.6M430.7 142.4h.6M415.1 147.5h.6M414.9 136.5h.6M426.3 144.3h.6M422.1 141.0h.6M422.3 142.5h.6M415.1 143.2h.6M428.8 143.3h.6M428.8 143.8h.6M426.5 142.6h.6M418.3 143.3h.6M431.7 141.8h.6M421.0 141.3h.6M414.3 142.5h.6M417.4 144.2h.6M416.2 147.3h.6M429.6 145.9h.6M424.9 145.7h.6M426.6 143.7h.6M421.5 142.3h.6M425.2 141.2h.6M430.4 142.2h.6M419.3 145.2h.6M431.3 142.5h.6M418.5 143.3h.6M415.7 142.4h.6M430.0 141.6h.6M430.0 141.6h.6M416.2 143.2h.6M414.0 142.8h.6M423.8 143.6h.6M427.1 142.4h.6M422.9 142.6h.6M413.3 148.1h.6M414.8 145.4h.6M429.2 141.8h.6M417.4 143.8h.6M430.9 142.4h.6M412.6 147.8h.6M421.9 141.0h.6M420.3 143.2h.6M428.5 143.8h.6M414.4 144.7h.6M425.9 142.6h.6M426.6 143.8h.6M421.6 141.2h.6M427.7 144.0h.6M425.2 141.5h.6M417.5 145.3h.6M414.5 144.7h.6M424.0 142.0h.6M424.3 142.3h.6M421.7 140.0h.6M421.9 142.2h.6M431.0 141.7h.6M412.3 146.1h.6M420.9 144.5h.6M430.3 141.1h.6M419.2 144.9h.6M416.4 138.4h.6M426.9 141.7h.6M431.2 142.9h.6M417.0 145.8h.6M418.4 141.9h.6M416.9 145.2h.6M430.8 142.0h.6M416.7 144.3h.6M415.2 141.4h.6M420.3 147.3h.6M431.7 140.8h.6M419.1 146.4h.6M427.1 143.3h.6M420.0 142.8h.6M415.7 142.9h.6M419.5 149.5h.6M416.6 146.3h.6M428.5 141.2h.6M421.9 145.5h.6M416.3 146.9h.6M412.6 147.1h.6M427.4 141.1h.6M413.4 152.0h.6M417.6 146.5h.6M419.3 146.4h.6M424.7 144.0h.6M418.8 141.0h.6M427.2 139.7h.6M412.4 144.6h.6M430.9 139.8h.6M420.2 143.3h.6M422.3 145.4h.6M426.9 145.9h.6M427.6 142.1h.6M418.9 145.5h.6M413.7 146.4h.6M417.4 141.2h.6M423.4 145.4h.6M429.6 142.3h.6M414.1 146.1h.6M421.4 143.1h.6M424.7 144.1h.6M428.9 141.4h.6M428.8 142.7h.6M419.9 142.1h.6M417.4 142.0h.6M429.6 141.9h.6M420.4 144.9h.6M422.6 144.8h.6M425.3 145.0h.6M428.4 143.7h.6M430.2 141.8h.6M414.6 147.8h.6M424.0 139.8h.6M421.4 144.9h.6M430.7 142.5h.6M424.7 142.5h.6M415.1 142.7h.6M424.3 141.9h.6M412.1 146.2h.6M416.1 142.3h.6M428.0 141.2h.6M414.2 144.9h.6M425.1 141.7h.6M426.1 142.1h.6M418.6 148.6h.6M418.7 143.1h.6M420.8 146.4h.6M416.3 142.3h.6M411.9 144.8h.6M420.9 138.7h.6M421.7 141.1h.6M423.4 145.1h.6M414.0 143.7h.6M422.5 142.4h.6M422.8 146.3h.6M414.4 146.7h.6M431.1 141.3h.6M430.7 141.8h.6M430.4 143.3h.6M424.7 143.2h.6M415.5 145.0h.6M428.9 144.1h.6M416.0 143.6h.6M422.8 141.6h.6M417.4 146.6h.6M412.8 146.7h.6M412.8 148.9h.6M423.4 142.4h.6M420.9 143.2h.6M425.4 142.7h.6M412.4 144.7h.6M417.1 147.3h.6M427.7 141.6h.6M421.9 141.6h.6M421.1 143.3h.6M422.6 144.0h.6M413.8 146.6h.6M422.6 143.4h.6M420.0 147.6h.6M431.6 142.8h.6M416.3 149.6h.6M422.3 144.8h.6M427.8 142.1h.6M413.4 146.5h.6M415.5 143.3h.6M415.2 147.3h.6M416.6 144.3h.6M418.9 142.1h.6M415.6 151.1h.6M425.8 144.7h.6M414.6 145.5h.6M419.7 148.5h.6M423.5 145.0h.6M414.3 141.9h.6M428.0 144.2h.6M423.9 144.3h.6M421.3 144.8h.6M413.0 141.7h.6M417.5 147.1h.6M424.1 142.4h.6M411.8 142.2h.6M424.6 143.1h.6M429.8 141.6h.6M425.3 141.0h.6M419.6 143.0h.6M416.9 144.7h.6M416.5 144.1h.6M415.0 144.5h.6M414.1 147.2h.6M427.7 141.9h.6M412.1 145.3h.6M419.5 143.5h.6M430.6 141.6h.6M430.0 142.4h.6M420.6 141.3h.6M427.7 142.8h.6M430.6 141.5h.6M424.5 143.7h.6M428.3 142.0h.6M418.5 146.2h.6M427.7 141.0h.6M428.9 142.4h.6M427.0 141.8h.6M414.3 141.3h.6M419.2 145.0h.6M428.9 141.8h.6M423.5 144.5h.6M422.9 144.0h.6M431.1 143.1h.6M412.2 142.8h.6M427.0 143.8h.6M427.1 144.1h.6M419.0 146.2h.6M424.9 143.7h.6M431.3 142.9h.6M426.2 139.8h.6M423.8 141.9h.6M424.8 144.8h.6M415.2 141.7h.6M430.4 141.4h.6M412.5 146.2h.6M425.0 144.0h.6M413.4 143.7h.6M428.4 143.6h.6M429.7 143.4h.6M430.2 143.1h.6M414.5 146.9h.6M428.3 143.6h.6M424.9 141.4h.6M414.2 146.2h.6M416.5 143.7h.6M412.3 143.2h.6M426.5 142.2h.6M431.1 143.0h.6M424.7 142.7h.6M421.2 141.0h.6M423.1 145.0h.6M414.0 149.6h.6M415.8 142.3h.6M427.4 144.9h.6M422.3 143.5h.6M416.1 143.3h.6M428.6 143.9h.6M418.1 145.2h.6M422.4 144.1h.6M412.9 147.7h.6M426.3 151.1h.6M423.1 148.2h.6M418.5 149.5h.6M428.4 151.6h.6M412.0 151.9h.6M415.0 146.6h.6M420.6 155.3h.6M418.2 148.3h.6M419.8 147.9h.6M421.2 145.9h.6M423.5 152.4h.6M417.7 147.0h.6M427.4 147.4h.6M423.8 145.8h.6M419.4 148.5h.6M426.0 147.3h.6M419.8 146.8h.6M428.3 145.8h.6M416.8 149.0h.6M424.6 146.9h.6M414.2 148.3h.6M415.8 148.6h.6M414.2 151.6h.6M417.3 150.7h.6M425.1 155.2h.6M413.2 148.2h.6M418.3 146.2h.6M430.4 147.0h.6M419.3 153.0h.6M414.9 147.3h.6M415.0 147.6h.6M418.4 150.4h.6M426.4 146.4h.6M424.4 151.2h.6M419.9 145.7h.6M413.9 150.1h.6M425.4 148.0h.6M428.8 149.5h.6M425.5 147.7h.6M419.0 146.7h.6M428.2 150.9h.6M426.0 147.9h.6M424.1 153.0h.6M423.4 149.0h.6M423.1 146.7h.6M413.2 154.3h.6M424.8 148.9h.6M423.1 145.7h.6M419.7 150.5h.6M423.0 150.9h.6M429.2 148.2h.6M414.6 151.0h.6M418.4 152.6h.6M420.4 146.9h.6M421.4 145.9h.6M414.2 148.3h.6M420.9 156.0h.6M412.1 152.7h.6M412.3 144.4h.6M412.3 146.5h.6M411.9 139.7h.6M412.5 156.4h.6M412.2 154.7h.6M411.8 149.1h.6M411.8 154.2h.6M412.1 147.9h.6M412.2 152.4h.6M411.9 151.7h.6M412.2 144.1h.6M417.9 139.6h.6M420.8 140.5h.6M419.9 136.3h.6M418.2 140.1h.6M424.3 138.5h.6M422.8 136.0h.6M414.7 138.2h.6M415.8 136.0h.6M420.8 135.9h.6M421.0 137.1h.6M413.8 140.6h.6M412.8 139.2h.6M416.8 140.7h.6M419.5 139.9h.6M418.1 141.5h.6M417.4 141.2h.6M415.3 141.3h.6M412.7 140.0h.6M425.8 141.3h.6M415.0 140.7h.6M416.0 136.5h.6M416.8 139.3h.6M420.6 141.2h.6M416.1 138.3h.6M423.9 140.8h.6M416.1 135.2h.6M414.6 134.1h.6M415.4 141.3h.6M420.0 141.0h.6M418.4 137.4h.6M415.7 136.4h.6M416.7 139.0h.6M413.5 140.7h.6M420.2 138.4h.6M415.5 139.7h.6M429.6 129.4h.6M429.6 130.9h.6M422.6 129.1h.6M422.6 138.6h.6M425.8 136.1h.6M418.8 129.7h.6M418.2 133.3h.6M425.4 136.0h.6M412.6 135.2h.6M430.8 132.8h.6M412.8 129.5h.6M411.8 128.0h.6M431.6 133.6h.6M425.9 136.1h.6M457.1 149.5h.6M442.5 149.8h.6M446.5 149.3h.6M445.7 142.6h.6M445.0 146.9h.6M449.8 140.7h.6M420.7 139.5h.6M450.3 154.8h.6" stroke="#111" stroke-width="0.6" fill="none" opacity="0.75"/>
<rect x="410.80" y="124.40" width="51.80" height="32.90" fill="none" stroke="#666" stroke-width="0.9"/>
<line x1="410.8" y1="157.3" x2="462.6" y2="157.3" stroke="#333" stroke-width="1" stroke-dasharray="2.2 0.6"/>
<line x1="410.8" y1="124.4" x2="410.8" y2="157.3" stroke="#333" stroke-width="0.9" stroke-dasharray="1.4 0.7"/>
<text x="412.7" y="129.4" font-size="5.0" font-weight="bold" text-anchor="start" fill="#222" stroke="#222" stroke-width="0.18">0.52</text>
<text x="458.0" y="154.3" font-size="5.0" font-weight="bold" text-anchor="end" fill="#222" stroke="#222" stroke-width="0.18">0.91</text>
<line x1="491.3" y1="124" x2="491.3" y2="157.3" stroke="#5a5a5a" stroke-width="1.1"/>
<line x1="467.2" y1="139.1" x2="519.6" y2="139.1" stroke="#5a5a5a" stroke-width="1.1"/>
<g filter="url(#bl)" opacity="0.97"><ellipse cx="477" cy="143.5" rx="8.8" ry="3.7" fill="#0a0a0a"/><ellipse cx="476.5" cy="139.6" rx="3.8" ry="2.4" fill="#0a0a0a" opacity="0.4"/></g>
<path d="M506.7 140.1h.6M502.2 139.8h.6M506.7 142.8h.6M507.6 140.6h.6M497.5 140.4h.6M515.7 141.7h.6M497.1 140.0h.6M489.3 141.5h.6M516.5 142.2h.6M514.3 140.8h.6M492.9 140.1h.6M492.4 140.2h.6M491.1 142.2h.6M509.7 142.1h.6M513.7 142.3h.6M495.1 141.3h.6M505.3 140.0h.6M515.7 140.5h.6M484.8 140.8h.6M501.0 138.8h.6M503.6 141.5h.6M504.8 140.8h.6" stroke="#222" stroke-width="0.6" fill="none" opacity="0.45"/>
<path d="M480.8 142.8h.6M483.0 140.4h.6M474.4 141.4h.6M476.8 144.3h.6M469.5 139.9h.6M470.8 135.5h.6M477.1 141.5h.6M479.6 139.3h.6M486.3 140.5h.6M470.5 141.1h.6M471.5 139.6h.6M481.2 143.2h.6M470.2 143.6h.6M481.9 142.2h.6M472.2 144.5h.6M481.8 141.6h.6M482.0 141.8h.6M481.7 142.9h.6M473.5 142.5h.6M468.5 145.7h.6M470.0 144.7h.6M471.8 142.3h.6M477.8 141.3h.6M479.3 142.5h.6M471.4 139.5h.6M480.3 141.1h.6M483.0 143.1h.6M483.0 140.5h.6M469.6 141.0h.6M475.0 145.0h.6M483.8 140.5h.6M476.7 137.1h.6M475.8 142.8h.6M484.9 140.9h.6M473.7 143.1h.6M483.5 141.2h.6M469.2 146.3h.6M479.3 143.3h.6M483.4 142.4h.6M475.2 142.6h.6M483.2 142.0h.6M485.5 141.1h.6M481.1 140.4h.6M473.5 136.5h.6M483.1 139.9h.6M483.3 141.4h.6M484.9 142.8h.6M478.4 142.3h.6M472.2 140.8h.6M481.5 141.6h.6M476.3 140.4h.6M469.2 141.9h.6M480.4 142.3h.6M471.6 141.9h.6M478.4 139.8h.6M486.4 139.1h.6M473.6 142.9h.6M476.7 142.7h.6M486.0 139.7h.6M472.5 140.1h.6M469.4 145.9h.6M477.3 137.1h.6M485.1 141.1h.6M476.2 144.6h.6M473.6 143.4h.6M485.9 140.5h.6M477.1 144.4h.6M486.5 139.7h.6M473.5 145.0h.6M485.0 143.3h.6M481.7 143.1h.6M469.5 145.0h.6M485.6 140.3h.6M479.6 142.9h.6M470.5 141.4h.6M470.9 140.7h.6M473.2 143.7h.6M468.5 141.1h.6M469.0 145.0h.6M484.4 144.5h.6M471.2 140.2h.6M485.4 139.8h.6M475.1 140.0h.6M477.6 140.3h.6M472.9 144.0h.6M479.0 143.4h.6M473.7 140.5h.6M473.8 141.6h.6M477.9 143.9h.6M470.7 145.0h.6M469.5 141.9h.6M477.6 140.8h.6M472.5 145.8h.6M486.6 140.0h.6M470.4 145.8h.6M469.5 141.7h.6M486.2 141.4h.6M475.1 139.6h.6M483.8 140.2h.6M476.9 142.8h.6M471.2 144.7h.6M481.7 139.9h.6M470.2 143.1h.6M473.9 143.2h.6M481.7 143.9h.6M479.5 139.9h.6M482.1 142.1h.6M469.5 139.3h.6M484.3 139.6h.6M485.1 141.8h.6M473.7 144.5h.6M475.6 141.6h.6M479.7 141.8h.6M477.0 140.2h.6M481.8 144.6h.6M484.3 141.6h.6M475.9 147.7h.6M485.8 140.8h.6M478.6 139.7h.6M486.1 140.0h.6M470.5 145.2h.6M468.9 144.7h.6M472.3 143.4h.6M479.4 142.6h.6M470.5 145.9h.6M481.8 140.0h.6M477.9 140.9h.6M470.9 140.5h.6M479.6 143.5h.6M482.3 142.4h.6M485.6 140.6h.6M483.9 140.8h.6M485.6 142.2h.6M475.1 141.5h.6M476.9 144.1h.6M483.5 137.6h.6M469.4 146.5h.6M485.5 140.6h.6M480.4 141.7h.6M469.8 143.2h.6M468.7 146.8h.6M482.8 139.0h.6M484.7 138.9h.6M469.0 141.5h.6M481.1 141.6h.6M485.3 140.2h.6M478.4 143.9h.6M474.1 143.4h.6M470.9 146.1h.6M478.3 141.7h.6M478.6 140.2h.6M471.1 142.3h.6M474.1 140.1h.6M478.8 139.4h.6M480.7 142.4h.6M477.3 142.6h.6M477.5 140.8h.6M472.9 142.0h.6M479.5 141.1h.6M484.3 141.2h.6M477.9 144.3h.6M474.3 139.9h.6M471.6 145.3h.6M476.9 141.5h.6M476.9 140.1h.6M472.9 142.5h.6M475.1 143.3h.6M480.1 140.3h.6M483.6 141.8h.6M482.3 138.1h.6M481.7 141.9h.6M471.0 149.3h.6M479.5 143.7h.6M479.3 143.0h.6M484.5 140.6h.6M477.2 143.2h.6M474.2 142.8h.6M475.9 143.8h.6M484.1 140.9h.6M472.1 140.5h.6M479.4 140.0h.6M485.3 141.7h.6M483.9 141.1h.6M472.5 145.3h.6M468.4 143.8h.6M478.0 142.4h.6M486.6 140.7h.6M481.3 140.9h.6M479.7 143.6h.6M481.1 140.0h.6M475.7 142.6h.6M479.3 138.8h.6M486.0 140.6h.6M480.2 140.1h.6M483.5 140.6h.6M486.2 142.0h.6M478.2 143.7h.6M481.3 145.7h.6M476.6 141.1h.6M478.2 140.5h.6M472.1 143.5h.6M475.4 141.9h.6M480.4 141.2h.6M483.0 141.8h.6M468.2 146.0h.6M479.5 140.4h.6M478.0 140.8h.6M480.6 143.5h.6M479.3 140.1h.6M471.6 144.2h.6M471.9 144.9h.6M480.0 142.3h.6M469.6 145.1h.6M474.8 141.6h.6M471.8 140.2h.6M485.0 140.5h.6M477.1 139.9h.6M484.8 142.2h.6M476.9 140.8h.6M469.2 145.4h.6M484.9 139.9h.6M474.4 145.1h.6M477.9 142.1h.6M481.8 140.7h.6M484.5 141.8h.6M473.3 141.8h.6M472.2 146.3h.6M474.2 140.3h.6M478.6 141.4h.6M469.7 145.5h.6M475.3 140.6h.6M474.1 139.8h.6M480.9 140.2h.6M481.6 140.6h.6M483.8 140.9h.6M483.9 141.9h.6M481.9 143.0h.6M472.6 145.4h.6M478.1 141.7h.6M471.1 141.4h.6M484.9 140.6h.6M473.3 140.9h.6M484.5 141.0h.6M478.8 143.0h.6M475.9 142.6h.6M474.6 140.1h.6M472.0 140.6h.6M470.6 142.1h.6M478.0 139.9h.6M474.6 140.3h.6M481.8 141.0h.6M485.1 142.8h.6M484.6 141.8h.6M468.9 144.5h.6M475.3 143.2h.6M481.5 142.7h.6M475.3 140.6h.6M470.7 145.2h.6M482.1 139.7h.6M469.1 141.0h.6M474.4 139.8h.6M474.6 140.6h.6M483.9 141.7h.6M473.5 143.7h.6M475.3 144.2h.6M482.8 139.7h.6M484.2 139.7h.6M473.3 144.4h.6M472.6 142.7h.6M481.4 142.3h.6M483.7 139.9h.6M485.7 141.8h.6M481.4 142.6h.6M480.3 139.8h.6M481.5 141.5h.6M485.4 141.5h.6M469.2 145.5h.6M473.6 145.4h.6M480.4 140.6h.6M469.6 142.6h.6M472.5 140.5h.6M481.6 140.5h.6M473.3 142.3h.6M485.5 140.3h.6M484.7 141.1h.6M475.0 141.1h.6M478.9 143.6h.6M479.8 142.8h.6M483.8 140.5h.6M475.5 139.9h.6M474.0 143.7h.6M477.1 141.2h.6M477.5 140.4h.6M469.8 146.6h.6M482.4 142.0h.6M486.3 139.8h.6M477.8 140.5h.6M478.8 143.7h.6M480.6 143.3h.6M480.7 140.6h.6M471.2 144.8h.6M483.9 140.1h.6M480.4 144.4h.6M485.4 141.6h.6M483.8 140.6h.6M472.1 141.4h.6M478.9 143.3h.6M473.2 143.1h.6M480.3 143.5h.6M481.6 143.6h.6M478.0 141.0h.6M479.5 142.5h.6M471.7 145.9h.6M470.2 142.7h.6M472.3 139.6h.6M483.9 140.4h.6M483.0 140.5h.6M480.9 141.2h.6M475.1 143.3h.6M483.7 141.8h.6M477.0 141.3h.6M472.4 141.7h.6M477.3 144.0h.6M485.1 144.5h.6M480.1 140.7h.6M469.6 144.0h.6M474.3 145.1h.6M477.7 141.0h.6M475.2 144.3h.6M481.2 139.9h.6M480.8 141.8h.6M476.5 142.5h.6M476.1 140.5h.6M484.8 139.9h.6M484.3 139.9h.6M478.6 141.8h.6M479.0 142.1h.6M470.7 143.6h.6M470.0 140.1h.6M476.9 142.4h.6M478.9 142.9h.6M470.7 142.7h.6M483.7 140.1h.6M485.9 141.4h.6M471.2 141.3h.6M469.5 142.3h.6M468.5 141.2h.6M474.4 142.0h.6M484.7 141.9h.6M479.1 142.8h.6M482.3 142.2h.6M481.2 140.6h.6M470.9 144.6h.6M485.7 139.7h.6M479.8 141.9h.6M483.3 142.5h.6M481.1 140.3h.6M477.1 140.9h.6M468.7 145.6h.6M472.2 141.5h.6M481.3 140.1h.6M484.5 141.5h.6M483.4 140.7h.6M468.5 140.7h.6M478.0 142.1h.6M472.1 141.9h.6M481.2 141.4h.6M471.6 137.1h.6M480.0 140.9h.6M472.8 147.0h.6M479.6 140.3h.6M475.5 142.7h.6M476.0 139.6h.6M479.4 139.7h.6M477.3 143.5h.6M481.0 140.6h.6M478.0 142.3h.6M478.5 142.3h.6M486.5 140.8h.6M482.7 141.6h.6M480.4 140.7h.6M483.2 138.8h.6M485.6 140.3h.6M482.6 141.3h.6M480.4 141.8h.6M476.3 141.3h.6M474.8 139.5h.6M473.3 141.7h.6M471.2 145.4h.6M477.2 142.4h.6M474.4 140.0h.6M474.4 143.8h.6M478.9 142.1h.6M475.1 141.3h.6M472.0 146.0h.6M475.4 141.7h.6M476.7 145.0h.6M484.9 140.3h.6M468.7 141.6h.6M481.6 141.0h.6M472.5 145.1h.6M480.6 142.5h.6M486.0 139.8h.6M483.4 141.9h.6M475.1 140.6h.6M478.7 138.3h.6M472.7 144.3h.6M480.6 142.2h.6M475.1 141.9h.6M469.2 142.0h.6M477.9 140.8h.6M477.4 144.1h.6M479.2 137.6h.6M469.5 144.8h.6M474.9 140.5h.6M471.3 148.6h.6M476.6 142.6h.6M479.0 142.2h.6M474.9 141.0h.6M481.7 143.3h.6M481.4 146.4h.6M485.2 148.8h.6M475.5 145.1h.6M484.5 147.8h.6M470.0 150.3h.6M479.1 144.4h.6M481.4 151.1h.6M471.6 156.0h.6M481.0 144.9h.6M470.0 144.8h.6M468.9 151.3h.6M470.8 144.2h.6M484.5 145.3h.6M470.7 146.4h.6M480.7 146.1h.6M468.5 145.7h.6M481.4 144.6h.6M476.3 156.6h.6M478.8 148.1h.6M475.6 150.8h.6M473.2 146.1h.6M480.6 145.2h.6M469.0 147.6h.6M483.1 146.8h.6M468.9 149.4h.6M484.1 145.4h.6M484.6 145.7h.6M472.0 146.7h.6M472.1 147.5h.6M471.1 145.7h.6M481.1 146.0h.6M485.6 146.0h.6M471.4 146.9h.6M483.0 145.0h.6M483.2 144.7h.6M482.3 149.8h.6M472.5 147.0h.6M483.6 147.4h.6M470.5 147.1h.6M475.5 149.7h.6M477.7 146.3h.6M483.4 145.6h.6M473.8 145.9h.6M470.8 154.5h.6M483.1 146.9h.6M468.4 144.3h.6M469.7 144.9h.6M484.0 144.2h.6M470.3 144.4h.6M470.6 146.6h.6M479.7 147.1h.6M484.1 145.7h.6M480.3 151.8h.6M468.5 154.8h.6M471.7 146.2h.6M468.6 152.5h.6M476.4 144.7h.6M469.6 149.9h.6M469.3 148.3h.6M468.4 151.1h.6M468.4 151.1h.6M468.4 155.1h.6M468.5 154.7h.6M468.3 145.7h.6M468.4 152.1h.6M468.4 142.6h.6M468.6 138.2h.6M468.1 149.9h.6M468.1 148.3h.6M468.6 147.9h.6M468.5 150.4h.6M468.1 146.4h.6M475.0 136.8h.6M474.4 136.8h.6M470.9 139.3h.6M473.9 137.4h.6M472.4 137.0h.6M475.9 135.5h.6M474.5 132.7h.6M470.2 139.2h.6M471.6 139.6h.6M475.4 138.2h.6M478.6 138.3h.6M471.3 139.5h.6M476.0 137.8h.6M477.9 134.5h.6M470.8 138.9h.6M478.2 133.7h.6M475.8 139.4h.6M470.8 135.7h.6M475.8 138.5h.6M476.5 138.0h.6M477.5 138.2h.6M476.4 136.2h.6M473.8 139.7h.6M474.0 136.6h.6M469.6 139.3h.6M475.2 138.2h.6M473.9 137.2h.6M472.8 139.8h.6M473.2 137.9h.6M474.7 139.7h.6M476.4 135.9h.6M477.0 139.3h.6M474.6 137.4h.6M474.1 137.8h.6M475.8 138.8h.6M471.0 135.0h.6M476.1 136.7h.6M476.3 135.5h.6M474.5 139.4h.6M472.3 139.0h.6M474.5 137.3h.6M471.3 137.4h.6M476.2 137.2h.6M472.0 137.2h.6M477.0 139.1h.6M480.0 139.1h.6M471.9 136.5h.6M474.6 139.0h.6M475.2 136.8h.6M471.5 139.5h.6M479.4 136.8h.6M479.3 139.4h.6M471.7 139.2h.6M476.9 137.1h.6M468.6 138.9h.6M471.7 138.6h.6M469.3 139.6h.6M472.7 135.2h.6M474.4 139.5h.6M473.4 136.2h.6M475.8 134.3h.6M476.8 138.5h.6M480.3 137.2h.6M476.2 139.2h.6M475.2 135.7h.6M479.6 138.4h.6M474.3 136.3h.6M479.7 138.3h.6M471.5 137.9h.6M480.9 140.0h.6M476.4 138.7h.6M473.2 136.6h.6M484.5 139.7h.6M474.8 137.5h.6M474.2 137.7h.6M477.7 136.7h.6M471.9 139.9h.6M477.7 139.2h.6M478.9 135.6h.6M476.6 138.0h.6M475.4 139.0h.6M472.2 139.3h.6M471.6 139.2h.6M472.5 138.5h.6M475.8 137.9h.6M478.6 138.0h.6M477.7 139.2h.6M472.0 139.4h.6M472.6 138.9h.6M474.3 134.1h.6M473.9 134.9h.6M476.5 135.8h.6M469.1 137.7h.6M478.3 138.8h.6M474.5 139.3h.6M475.9 139.1h.6M473.5 138.9h.6M478.7 138.1h.6M476.3 136.3h.6M473.0 135.6h.6M474.5 137.9h.6M476.1 138.5h.6M477.0 139.0h.6M476.3 139.2h.6M476.8 131.9h.6M471.2 137.6h.6M474.8 132.7h.6M474.4 138.3h.6M479.7 138.3h.6M480.9 138.4h.6M474.5 137.7h.6M472.7 138.6h.6M473.4 139.4h.6M477.5 138.5h.6M476.1 138.5h.6M477.8 131.0h.6M474.5 139.5h.6M471.8 136.8h.6M475.8 135.9h.6M478.1 138.0h.6M474.7 136.5h.6M474.5 138.6h.6M475.9 138.6h.6M484.4 134.8h.6M478.7 138.6h.6M474.4 137.1h.6M475.1 136.1h.6M476.4 139.5h.6M468.9 139.4h.6M471.9 137.7h.6M476.6 139.1h.6M474.2 133.0h.6M476.4 138.1h.6M475.8 139.7h.6M468.4 134.9h.6M470.9 133.3h.6M474.6 139.2h.6M473.4 136.9h.6M475.2 134.5h.6M477.5 134.7h.6M474.8 138.9h.6M473.8 139.5h.6M469.9 138.2h.6M472.2 138.0h.6M478.8 139.2h.6M478.8 137.3h.6M477.9 136.8h.6M473.3 137.5h.6M474.2 138.4h.6M478.8 133.0h.6M472.2 134.4h.6M477.6 137.3h.6M476.0 138.9h.6M476.3 138.9h.6M471.2 140.0h.6M477.7 137.5h.6M477.1 136.5h.6M472.1 140.0h.6M476.2 136.8h.6M475.6 138.4h.6M475.5 133.2h.6M468.5 140.0h.6M482.6 139.3h.6M469.6 139.7h.6M470.8 137.9h.6M475.8 134.5h.6M476.5 137.9h.6M478.2 139.4h.6M472.5 139.8h.6M476.1 139.2h.6M473.1 138.9h.6M470.6 136.7h.6M474.9 138.9h.6M475.2 135.5h.6M476.0 140.0h.6M471.6 136.6h.6M476.3 137.2h.6M476.4 136.6h.6M475.5 139.9h.6M478.1 138.8h.6M474.0 139.3h.6M475.3 134.6h.6M474.4 138.3h.6M474.2 138.5h.6M475.8 137.8h.6M470.9 132.0h.6M480.7 140.0h.6M471.5 139.6h.6M476.4 132.8h.6M475.2 135.3h.6M476.5 135.6h.6M478.3 135.2h.6M479.3 137.1h.6M474.0 138.5h.6M479.7 139.0h.6M475.1 138.3h.6M478.6 133.1h.6M479.4 136.9h.6M477.9 134.8h.6M472.3 138.1h.6M477.6 134.8h.6M477.0 138.0h.6M478.9 139.1h.6M476.6 139.5h.6M480.6 138.9h.6M475.1 133.6h.6M475.4 137.9h.6M472.9 139.4h.6M468.3 139.8h.6M473.2 135.2h.6M470.8 136.4h.6M476.4 135.1h.6M480.6 137.8h.6M474.0 139.3h.6M471.7 134.8h.6M472.9 136.2h.6M478.0 134.9h.6M478.8 140.0h.6M476.6 139.9h.6M476.4 136.8h.6M472.4 137.8h.6M474.0 138.1h.6M471.4 134.9h.6M473.2 138.2h.6M477.3 138.7h.6M474.1 136.6h.6M472.1 134.9h.6M478.6 136.6h.6M480.8 138.5h.6M476.1 137.6h.6M478.0 139.3h.6M476.2 133.1h.6M470.0 135.5h.6M472.2 137.6h.6M478.7 139.0h.6M477.2 139.9h.6M476.0 138.3h.6M475.0 140.1h.6M478.6 132.8h.6M469.6 138.4h.6M475.1 136.9h.6M478.3 137.5h.6M477.6 137.0h.6M470.0 134.6h.6M478.8 137.0h.6M479.0 137.9h.6M472.1 136.3h.6M473.1 137.7h.6M470.5 139.4h.6M478.2 137.9h.6M469.5 133.1h.6M480.7 137.8h.6M473.5 136.1h.6M470.2 138.3h.6M479.1 136.6h.6M475.1 139.2h.6M474.4 138.5h.6M490.2 137.6h.6M471.5 133.3h.6M481.5 125.7h.6M477.2 135.5h.6M483.0 129.0h.6M485.8 129.1h.6M480.7 130.9h.6M490.8 134.1h.6M486.8 134.5h.6M476.9 138.6h.6M484.6 134.7h.6M474.5 127.3h.6M481.4 136.6h.6M486.5 129.9h.6M475.2 148.0h.6M512.4 141.9h.6M505.4 142.0h.6M483.9 140.0h.6M483.1 145.7h.6M516.9 155.6h.6M477.6 144.4h.6M515.8 142.5h.6" stroke="#111" stroke-width="0.6" fill="none" opacity="0.75"/>
<rect x="467.20" y="124.00" width="52.40" height="33.30" fill="none" stroke="#666" stroke-width="0.9"/>
<line x1="467.2" y1="157.3" x2="519.6" y2="157.3" stroke="#333" stroke-width="1" stroke-dasharray="2.2 0.6"/>
<line x1="467.2" y1="124" x2="467.2" y2="157.3" stroke="#333" stroke-width="0.9" stroke-dasharray="1.4 0.7"/>
<text x="469.09999999999997" y="130.2" font-size="5.0" font-weight="bold" text-anchor="start" fill="#222" stroke="#222" stroke-width="0.18">3.72</text>
<text x="515.0" y="153.6" font-size="5.0" font-weight="bold" text-anchor="end" fill="#222" stroke="#222" stroke-width="0.18">0.25</text>
<line x1="433.3" y1="161.3" x2="433.3" y2="193" stroke="#5a5a5a" stroke-width="1.1"/>
<line x1="410.8" y1="176.5" x2="462.6" y2="176.5" stroke="#5a5a5a" stroke-width="1.1"/>
<g filter="url(#bl)" opacity="0.97"><path d="M411.6 178.5 L428 178.4 L432.8 179.3 L428 183 L423 185.8 L416 186.8 L411.6 186.4Z" fill="#0a0a0a"/></g>
<path d="M446.7 179.5h.6M435.3 178.1h.6M456.3 177.7h.6M459.1 181.3h.6M434.7 177.1h.6M441.8 178.1h.6M446.5 179.3h.6M436.5 179.6h.6M434.2 179.1h.6M446.9 180.8h.6M458.1 179.0h.6M458.1 178.5h.6M449.0 177.5h.6M450.0 178.9h.6M441.1 178.7h.6M458.7 178.9h.6M437.7 179.8h.6M430.9 179.3h.6M446.6 179.7h.6M434.0 180.5h.6M454.9 178.7h.6M457.5 178.1h.6M459.4 178.7h.6M430.7 178.0h.6M432.0 177.0h.6M439.7 180.6h.6M447.1 180.4h.6M456.8 179.5h.6M447.7 179.5h.6M436.5 179.3h.6M435.8 179.6h.6M457.6 179.0h.6M438.4 180.3h.6M440.0 178.6h.6M458.6 178.1h.6M432.6 180.3h.6M454.7 179.9h.6M452.2 179.3h.6M438.4 180.0h.6M449.8 180.2h.6M458.3 182.6h.6M448.7 179.3h.6M449.5 180.3h.6M446.6 180.8h.6M441.0 180.0h.6M434.7 178.9h.6M435.2 180.2h.6M453.8 180.5h.6M435.2 178.1h.6M446.9 179.4h.6M442.6 179.2h.6M432.3 179.4h.6M442.9 179.5h.6M437.6 181.1h.6M454.5 179.4h.6" stroke="#222" stroke-width="0.6" fill="none" opacity="0.45"/>
<path d="M419.3 178.8h.6M418.0 180.6h.6M432.0 178.7h.6M431.0 180.5h.6M425.7 179.8h.6M428.0 180.2h.6M426.4 181.3h.6M418.3 183.9h.6M423.5 181.2h.6M417.9 187.6h.6M424.3 182.5h.6M418.1 178.6h.6M423.9 181.8h.6M426.5 181.4h.6M414.6 182.8h.6M432.1 179.9h.6M428.4 181.4h.6M427.8 179.6h.6M429.0 178.8h.6M430.3 179.7h.6M426.3 181.5h.6M413.5 182.0h.6M429.9 179.9h.6M421.0 179.7h.6M429.7 180.9h.6M429.6 180.3h.6M428.0 181.4h.6M430.8 180.5h.6M425.9 182.6h.6M427.0 179.2h.6M413.6 184.4h.6M418.2 179.6h.6M414.2 185.3h.6M428.9 180.5h.6M413.7 186.6h.6M419.3 181.9h.6M415.3 178.6h.6M421.8 182.4h.6M412.8 184.4h.6M425.5 179.6h.6M424.3 181.8h.6M416.8 183.2h.6M429.0 178.3h.6M428.5 179.9h.6M421.4 181.6h.6M427.4 179.7h.6M423.2 179.3h.6M430.2 181.0h.6M419.4 173.4h.6M413.7 179.2h.6M422.0 181.9h.6M422.0 179.2h.6M421.0 179.3h.6M427.6 179.8h.6M416.6 179.5h.6M418.1 182.6h.6M432.2 180.5h.6M431.2 180.1h.6M413.4 178.3h.6M430.1 180.1h.6M418.0 179.2h.6M425.6 180.1h.6M416.1 184.3h.6M429.0 178.5h.6M414.5 183.8h.6M422.4 181.5h.6M431.0 176.8h.6M415.0 182.2h.6M423.1 179.4h.6M412.4 183.3h.6M427.1 182.3h.6M427.6 181.2h.6M429.7 178.2h.6M416.9 180.7h.6M412.0 181.6h.6M428.6 178.3h.6M430.6 178.4h.6M419.3 183.4h.6M422.6 179.2h.6M417.6 180.2h.6M424.8 179.1h.6M422.1 181.5h.6M427.1 178.5h.6M427.4 179.9h.6M420.9 182.1h.6M417.5 182.6h.6M422.4 182.8h.6M424.9 179.2h.6M432.5 179.1h.6M428.6 180.5h.6M425.6 178.4h.6M414.2 182.2h.6M413.1 185.3h.6M417.1 184.3h.6M425.7 179.7h.6M418.0 178.3h.6M428.0 181.6h.6M427.1 181.2h.6M415.8 178.9h.6M428.6 180.0h.6M429.9 180.7h.6M423.0 181.1h.6M428.9 178.4h.6M423.9 180.1h.6M412.0 178.4h.6M429.5 179.7h.6M422.1 181.5h.6M416.8 178.9h.6M432.3 179.0h.6M414.2 184.4h.6M429.8 179.3h.6M418.9 183.9h.6M432.3 180.8h.6M411.9 179.1h.6M426.8 180.2h.6M422.1 181.4h.6M425.9 179.8h.6M431.0 176.9h.6M427.3 180.7h.6M429.8 180.9h.6M416.2 176.1h.6M417.8 180.4h.6M419.3 180.8h.6M432.3 180.4h.6M428.1 181.0h.6M432.6 179.2h.6M421.2 179.4h.6M430.5 180.8h.6M419.4 182.2h.6M428.8 178.5h.6M429.4 180.2h.6M420.2 183.7h.6M415.8 182.7h.6M423.7 175.2h.6M421.1 178.0h.6M414.1 180.3h.6M430.9 178.9h.6M427.2 175.1h.6M416.1 182.9h.6M426.8 181.1h.6M417.7 178.4h.6M426.8 179.2h.6M432.0 179.6h.6M426.1 181.0h.6M418.9 178.6h.6M412.2 179.3h.6M414.6 185.2h.6M426.7 181.2h.6M416.1 180.3h.6M421.1 180.6h.6M427.5 181.6h.6M419.7 187.0h.6M417.2 182.7h.6M428.9 179.1h.6M412.0 185.4h.6M415.7 182.3h.6M426.2 178.8h.6M414.3 177.5h.6M424.4 178.5h.6M412.2 186.4h.6M415.0 177.7h.6M415.2 186.4h.6M417.8 181.5h.6M414.6 183.9h.6M418.5 182.9h.6M417.2 179.6h.6M420.6 181.8h.6M422.4 184.6h.6M429.6 178.3h.6M421.7 180.6h.6M427.2 178.6h.6M422.5 179.4h.6M421.7 178.6h.6M420.1 183.5h.6M424.1 179.2h.6M427.8 181.3h.6M432.0 180.0h.6M414.6 178.9h.6M416.0 181.2h.6M416.9 179.9h.6M431.3 180.1h.6M413.7 180.6h.6M416.8 180.6h.6M414.8 179.3h.6M412.1 182.3h.6M412.4 184.0h.6M423.7 180.5h.6M425.1 178.8h.6M428.9 180.0h.6M427.7 177.1h.6M416.2 182.2h.6M430.8 178.8h.6M412.8 179.3h.6M416.4 182.1h.6M431.6 179.9h.6M412.1 189.1h.6M417.4 181.5h.6M431.7 180.7h.6M425.4 181.7h.6M416.7 179.0h.6M432.0 179.2h.6M419.7 178.3h.6M420.4 182.9h.6M411.7 180.3h.6M422.0 181.9h.6M415.2 179.0h.6M431.9 178.5h.6M423.4 182.4h.6M413.3 179.5h.6M424.7 180.0h.6M430.6 180.6h.6M431.9 180.5h.6M421.1 183.2h.6M414.4 180.3h.6M418.6 181.9h.6M430.2 179.7h.6M429.8 178.6h.6M414.7 182.9h.6M424.7 178.0h.6M430.8 179.8h.6M430.8 178.7h.6M426.8 179.1h.6M420.2 182.0h.6M413.7 182.9h.6M422.4 182.3h.6M412.0 183.6h.6M427.1 178.9h.6M431.9 179.9h.6M417.4 184.4h.6M416.8 184.5h.6M430.8 180.2h.6M420.1 182.6h.6M415.0 179.7h.6M418.1 179.1h.6M421.0 178.6h.6M424.6 178.4h.6M427.0 178.9h.6M422.6 181.6h.6M415.8 184.8h.6M428.2 179.1h.6M425.8 181.1h.6M432.1 180.1h.6M418.8 183.2h.6M425.0 182.6h.6M416.6 181.8h.6M427.4 178.5h.6M411.9 183.7h.6M411.8 180.3h.6M427.2 178.1h.6M412.3 185.5h.6M432.1 179.0h.6M423.4 180.2h.6M422.5 178.5h.6M414.0 178.9h.6M425.4 179.3h.6M428.7 179.3h.6M422.8 182.8h.6M424.2 178.9h.6M426.8 181.0h.6M417.3 181.9h.6M424.7 181.3h.6M429.0 179.1h.6M417.3 182.5h.6M424.3 179.1h.6M424.6 181.0h.6M417.5 180.9h.6M423.6 178.3h.6M427.4 179.3h.6M425.7 180.7h.6M430.8 179.1h.6M426.2 178.8h.6M417.2 184.1h.6M431.9 177.5h.6M419.0 182.5h.6M413.3 178.9h.6M413.1 179.4h.6M431.4 178.6h.6M414.8 181.9h.6M420.1 181.2h.6M428.4 178.4h.6M420.6 179.6h.6M426.3 179.5h.6M422.5 182.1h.6M420.3 183.4h.6M431.4 178.5h.6M422.1 179.6h.6M412.8 182.7h.6M431.0 179.5h.6M425.3 178.5h.6M427.9 179.2h.6M420.8 183.5h.6M413.1 184.0h.6M415.2 178.7h.6M415.8 183.9h.6M415.9 183.4h.6M421.4 178.9h.6M417.6 182.0h.6M414.7 183.5h.6M430.6 175.8h.6M425.0 180.2h.6M427.2 178.7h.6M416.5 183.1h.6M414.5 180.2h.6M417.8 184.5h.6M415.5 184.1h.6M419.3 182.6h.6M419.7 180.6h.6M429.3 179.6h.6M428.2 181.3h.6M431.8 180.3h.6M429.2 179.4h.6M420.4 180.3h.6M414.6 184.8h.6M421.1 183.0h.6M428.0 181.4h.6M429.0 179.7h.6M427.5 180.6h.6M426.1 181.6h.6M415.1 180.6h.6M429.3 180.9h.6M429.8 178.5h.6M415.3 181.5h.6M426.0 181.7h.6M423.9 179.8h.6M428.5 177.1h.6M430.2 179.2h.6M417.7 180.3h.6M412.5 182.3h.6M413.6 179.7h.6M422.2 182.3h.6M431.8 179.8h.6M430.7 180.7h.6M427.6 181.4h.6M424.4 180.8h.6M429.4 179.7h.6M421.2 182.0h.6M426.3 179.7h.6M420.1 180.5h.6M431.1 179.8h.6M421.6 180.5h.6M414.2 184.2h.6M428.7 178.9h.6M427.8 179.0h.6M417.1 185.3h.6M420.5 183.4h.6M416.7 180.4h.6M427.6 180.2h.6M423.0 178.9h.6M431.9 179.4h.6M424.2 182.7h.6M424.0 185.6h.6M430.2 180.9h.6M416.8 181.5h.6M430.8 181.3h.6M431.4 178.6h.6M425.6 179.5h.6M421.4 179.6h.6M418.3 181.4h.6M422.3 178.2h.6M419.7 182.6h.6M417.4 181.5h.6M416.1 184.3h.6M416.7 183.0h.6M427.9 180.7h.6M418.2 182.3h.6M431.6 178.4h.6M413.6 181.3h.6M426.5 180.0h.6M425.7 178.3h.6M417.6 179.2h.6M421.1 179.8h.6M415.8 178.8h.6M416.5 181.6h.6M416.3 181.2h.6M432.2 180.4h.6M422.4 181.2h.6M415.4 178.7h.6M427.0 183.2h.6M421.0 180.5h.6M419.9 180.5h.6M415.6 181.3h.6M429.8 179.3h.6M425.6 180.2h.6M420.9 179.8h.6M424.0 181.6h.6M431.7 179.1h.6M429.9 177.6h.6M419.7 178.5h.6M423.9 179.0h.6M414.7 182.1h.6M419.3 181.1h.6M420.1 180.4h.6M419.9 183.6h.6M425.7 179.6h.6M420.6 182.6h.6M418.0 180.6h.6M420.1 178.6h.6M419.5 180.5h.6M415.7 178.3h.6M416.5 183.6h.6M415.4 178.6h.6M418.0 182.7h.6M431.0 176.4h.6M414.1 179.0h.6M421.6 182.2h.6M430.0 178.5h.6M430.3 176.1h.6M412.8 179.2h.6M412.4 183.1h.6M414.6 179.5h.6M425.1 182.4h.6M420.1 176.1h.6M421.6 179.5h.6M417.4 187.0h.6M416.1 179.2h.6M419.9 178.5h.6M423.6 178.4h.6M421.7 180.7h.6M424.5 182.2h.6M425.0 179.9h.6M430.4 187.5h.6M422.3 190.6h.6M414.0 185.5h.6M425.0 186.5h.6M411.8 186.4h.6M421.3 190.6h.6M411.8 184.8h.6M424.5 187.0h.6M422.4 183.6h.6M430.8 186.2h.6M430.7 186.9h.6M417.3 186.1h.6M418.5 184.3h.6M427.1 190.9h.6M427.1 187.9h.6M417.4 183.2h.6M423.3 186.3h.6M414.3 187.1h.6M416.5 187.8h.6M430.0 189.5h.6M426.4 187.4h.6M414.2 183.5h.6M429.6 187.3h.6M422.8 192.0h.6M413.1 189.0h.6M426.8 185.4h.6M413.5 185.8h.6M428.8 188.1h.6M416.2 186.1h.6M425.8 184.0h.6M420.9 184.7h.6M425.6 184.3h.6M416.6 190.5h.6M431.6 186.5h.6M419.5 190.9h.6M426.4 186.0h.6M420.1 186.1h.6M430.6 185.4h.6M420.5 188.7h.6M414.1 189.4h.6M421.8 187.4h.6M426.0 186.7h.6M418.5 188.2h.6M416.0 183.6h.6M420.6 184.1h.6M413.1 190.3h.6M420.3 190.4h.6M425.8 184.2h.6M417.9 186.0h.6M413.9 184.5h.6M427.6 184.7h.6M421.0 185.0h.6M417.7 189.1h.6M420.5 192.2h.6M411.8 179.3h.6M411.9 181.9h.6M412.2 179.1h.6M412.4 182.4h.6M412.0 178.1h.6M412.0 178.4h.6M411.9 174.4h.6M411.7 179.4h.6M412.4 187.7h.6M412.6 180.7h.6M412.1 182.2h.6M411.8 188.0h.6M412.2 186.2h.6M411.7 191.5h.6M421.3 175.8h.6M420.2 176.1h.6M424.9 177.9h.6M424.9 177.0h.6M416.3 171.9h.6M419.5 177.2h.6M418.3 177.6h.6M420.3 178.1h.6M421.0 176.8h.6M416.7 177.4h.6M423.7 176.6h.6M418.6 177.3h.6M422.2 175.7h.6M426.7 177.8h.6M416.0 178.2h.6M420.6 174.5h.6M424.5 177.7h.6M418.0 178.0h.6M422.6 167.1h.6M413.9 172.8h.6M427.2 169.6h.6M415.3 171.8h.6M421.1 171.7h.6M413.7 175.1h.6M411.8 165.5h.6M420.3 165.1h.6M413.6 172.1h.6M433.2 167.1h.6M417.5 171.8h.6M416.5 168.0h.6M426.6 168.4h.6M415.1 163.3h.6M438.8 191.9h.6M457.6 178.0h.6M436.8 184.1h.6M421.4 186.9h.6M436.4 189.0h.6M426.3 191.0h.6M452.3 183.8h.6M418.8 184.0h.6" stroke="#111" stroke-width="0.6" fill="none" opacity="0.75"/>
<rect x="410.80" y="161.30" width="51.80" height="31.70" fill="none" stroke="#666" stroke-width="0.9"/>
<line x1="410.8" y1="193" x2="462.6" y2="193" stroke="#333" stroke-width="1" stroke-dasharray="2.2 0.6"/>
<line x1="410.8" y1="161.3" x2="410.8" y2="193" stroke="#333" stroke-width="0.9" stroke-dasharray="1.4 0.7"/>
<text x="412.7" y="167" font-size="5.0" font-weight="bold" text-anchor="start" fill="#222" stroke="#222" stroke-width="0.18">0.22</text>
<text x="458.0" y="189.4" font-size="5.0" font-weight="bold" text-anchor="end" fill="#222" stroke="#222" stroke-width="0.18">3.38</text>
<line x1="491.3" y1="161.2" x2="491.3" y2="193.1" stroke="#5a5a5a" stroke-width="1.1"/>
<line x1="467.2" y1="176.5" x2="519.6" y2="176.5" stroke="#5a5a5a" stroke-width="1.1"/>
<g filter="url(#bl)" opacity="0.97"><ellipse cx="477.5" cy="180" rx="9.4" ry="4.5" fill="#0a0a0a"/><path d="M470.5 178 L474.5 169.5 L478.5 169.5 L483.5 178Z" fill="#0a0a0a" opacity="0.5"/></g>
<path d="M496.6 175.7h.6M490.8 177.1h.6M510.9 175.6h.6M496.5 176.1h.6M508.8 177.7h.6M513.0 175.7h.6M498.4 177.8h.6M512.4 176.7h.6M497.2 175.3h.6M494.4 177.9h.6M495.4 175.4h.6M488.7 177.5h.6M487.3 179.0h.6M510.8 175.4h.6M502.6 176.4h.6M498.6 176.2h.6M514.2 176.4h.6M489.2 177.6h.6M505.6 177.7h.6M510.7 175.8h.6M487.7 174.4h.6M486.4 176.7h.6M490.8 178.3h.6M502.3 176.7h.6M502.2 176.0h.6M513.6 176.6h.6M500.7 175.6h.6M494.6 178.3h.6M506.9 176.2h.6M495.4 176.5h.6M510.4 175.5h.6M497.2 177.7h.6M499.8 175.6h.6M503.3 177.0h.6M515.4 175.4h.6M486.3 177.9h.6M501.0 175.6h.6M512.0 177.1h.6M507.9 177.3h.6M511.2 174.4h.6M505.9 178.9h.6M487.5 176.9h.6M503.5 176.9h.6M495.9 176.5h.6M488.5 177.7h.6M513.8 177.3h.6M499.7 175.5h.6M495.5 175.9h.6M515.9 176.0h.6M515.3 176.3h.6" stroke="#222" stroke-width="0.6" fill="none" opacity="0.45"/>
<path d="M471.2 181.0h.6M480.3 177.2h.6M469.3 182.3h.6M470.9 175.8h.6M480.4 177.1h.6M482.5 178.5h.6M474.4 178.6h.6M470.4 182.5h.6M481.4 179.5h.6M482.9 177.0h.6M482.1 175.6h.6M475.9 178.7h.6M488.0 177.7h.6M484.2 172.6h.6M481.6 174.2h.6M480.1 178.1h.6M478.5 177.5h.6M479.0 176.6h.6M474.4 178.9h.6M477.2 176.5h.6M479.4 179.5h.6M482.7 175.8h.6M486.8 176.5h.6M474.7 180.3h.6M484.8 178.0h.6M473.1 178.0h.6M475.0 180.5h.6M483.2 176.4h.6M484.2 178.0h.6M481.4 176.7h.6M469.7 175.7h.6M487.4 177.2h.6M487.5 176.6h.6M473.4 176.2h.6M484.4 177.2h.6M476.3 178.5h.6M482.8 180.2h.6M477.6 177.3h.6M487.6 175.8h.6M474.5 172.6h.6M485.4 178.3h.6M486.1 176.0h.6M484.0 175.9h.6M486.3 176.6h.6M480.6 175.5h.6M476.7 175.5h.6M476.3 176.0h.6M481.2 175.5h.6M482.1 176.7h.6M472.8 184.5h.6M486.5 177.2h.6M480.2 175.6h.6M475.4 179.4h.6M479.0 176.6h.6M475.1 177.8h.6M486.3 178.5h.6M473.6 179.2h.6M476.4 180.4h.6M484.7 178.2h.6M478.4 182.4h.6M469.6 177.3h.6M481.2 179.6h.6M476.6 174.9h.6M470.7 181.5h.6M477.7 181.4h.6M473.1 176.1h.6M470.4 179.0h.6M479.0 179.2h.6M479.1 179.9h.6M472.1 179.2h.6M476.3 180.4h.6M476.0 179.4h.6M480.0 175.8h.6M487.3 175.7h.6M481.8 176.9h.6M475.4 185.9h.6M475.6 181.7h.6M476.1 176.4h.6M481.9 177.4h.6M477.0 180.2h.6M478.0 174.6h.6M468.9 183.8h.6M482.3 177.6h.6M478.3 176.4h.6M481.6 176.6h.6M481.6 178.2h.6M472.2 177.8h.6M479.8 177.9h.6M481.0 176.9h.6M482.2 178.1h.6M484.1 176.2h.6M477.7 182.1h.6M480.1 175.9h.6M487.6 178.0h.6M481.7 178.2h.6M469.0 187.4h.6M474.2 177.8h.6M472.3 178.5h.6M486.1 178.0h.6M482.4 179.2h.6M472.9 179.0h.6M475.7 177.6h.6M469.8 180.7h.6M471.1 177.8h.6M474.4 185.3h.6M487.9 177.5h.6M474.5 174.6h.6M484.7 176.2h.6M470.4 173.6h.6M485.6 177.7h.6M478.1 176.9h.6M478.0 181.0h.6M474.5 181.2h.6M473.8 178.2h.6M473.3 182.4h.6M476.2 178.6h.6M468.9 179.5h.6M476.0 177.6h.6M483.2 177.1h.6M479.3 180.3h.6M478.3 179.9h.6M472.8 178.0h.6M484.7 176.4h.6M481.4 177.2h.6M480.3 177.6h.6M468.2 169.8h.6M473.9 173.9h.6M481.2 179.1h.6M474.7 177.2h.6M484.2 178.5h.6M477.6 181.0h.6M472.6 178.5h.6M479.0 176.6h.6M485.7 175.9h.6M472.4 176.8h.6M478.3 177.9h.6M478.9 185.1h.6M472.8 181.1h.6M480.2 176.5h.6M484.1 178.2h.6M473.4 180.1h.6M476.3 175.8h.6M481.5 176.1h.6M479.8 175.9h.6M485.2 177.6h.6M469.5 176.1h.6M473.9 178.9h.6M473.9 178.7h.6M476.3 178.3h.6M473.3 177.8h.6M470.8 181.7h.6M488.0 175.5h.6M483.7 179.1h.6M476.7 175.9h.6M487.2 176.6h.6M477.6 176.8h.6M485.0 176.0h.6M477.0 174.3h.6M480.0 178.4h.6M473.7 181.6h.6M470.2 182.7h.6M487.7 177.1h.6M481.3 179.8h.6M478.2 177.1h.6M482.8 176.3h.6M481.5 178.5h.6M468.7 178.3h.6M480.7 176.0h.6M482.1 178.9h.6M475.0 180.9h.6M471.0 175.9h.6M486.9 177.5h.6M476.2 177.9h.6M478.8 176.1h.6M479.3 180.6h.6M476.5 176.8h.6M487.5 177.1h.6M485.1 178.0h.6M474.4 175.7h.6M477.8 179.3h.6M483.8 176.0h.6M479.2 180.5h.6M486.2 177.2h.6M477.2 178.1h.6M486.6 177.2h.6M482.8 179.3h.6M470.8 181.2h.6M468.7 176.5h.6M478.3 176.3h.6M473.3 176.1h.6M472.7 176.4h.6M484.8 176.3h.6M473.7 183.1h.6M469.4 176.2h.6M487.1 177.1h.6M485.6 175.6h.6M482.5 178.5h.6M474.4 176.7h.6M477.6 178.9h.6M474.8 179.8h.6M470.3 176.3h.6M471.0 179.5h.6M483.0 177.1h.6M486.2 178.5h.6M486.2 177.0h.6M487.1 177.7h.6M481.0 180.2h.6M481.6 176.7h.6M485.6 176.3h.6M481.0 177.6h.6M482.9 178.2h.6M470.7 180.7h.6M482.4 176.2h.6M487.4 176.6h.6M476.4 180.1h.6M481.7 178.0h.6M479.1 180.6h.6M487.5 176.5h.6M488.0 177.6h.6M473.6 180.5h.6M487.0 177.7h.6M484.2 176.6h.6M476.2 176.7h.6M485.2 176.6h.6M471.8 177.1h.6M475.6 176.4h.6M482.9 179.0h.6M475.5 176.8h.6M474.9 178.1h.6M468.5 178.8h.6M468.5 179.7h.6M487.4 176.1h.6M468.8 181.6h.6M480.4 176.6h.6M474.6 178.9h.6M476.3 179.9h.6M485.3 177.8h.6M484.6 177.4h.6M484.7 177.4h.6M474.2 176.7h.6M482.8 178.7h.6M481.3 179.8h.6M484.7 176.6h.6M486.8 175.7h.6M475.5 181.5h.6M481.6 179.7h.6M484.1 177.2h.6M483.7 175.8h.6M481.1 176.9h.6M473.8 181.8h.6M471.2 179.3h.6M475.6 182.6h.6M484.3 176.0h.6M487.6 175.6h.6M477.9 178.2h.6M477.1 178.4h.6M477.1 179.3h.6M473.6 178.9h.6M476.8 178.5h.6M475.3 182.0h.6M472.9 175.5h.6M470.5 178.9h.6M485.1 178.8h.6M485.1 177.4h.6M468.5 177.7h.6M481.1 178.0h.6M476.4 178.0h.6M470.7 181.9h.6M480.7 178.3h.6M485.8 174.7h.6M483.7 178.9h.6M482.0 179.6h.6M484.9 177.2h.6M476.5 180.2h.6M481.0 178.0h.6M486.8 178.1h.6M480.1 181.7h.6M468.9 180.2h.6M483.1 175.6h.6M481.4 178.7h.6M487.1 176.3h.6M485.9 178.0h.6M469.0 182.4h.6M473.6 177.0h.6M482.7 178.0h.6M475.4 181.7h.6M484.1 175.6h.6M473.8 178.2h.6M475.8 180.7h.6M484.0 179.7h.6M468.7 179.7h.6M487.0 177.8h.6M476.8 181.1h.6M469.8 176.7h.6M471.4 181.0h.6M480.4 179.4h.6M479.0 179.9h.6M484.8 178.8h.6M484.7 175.4h.6M485.7 179.6h.6M484.0 178.6h.6M487.8 177.6h.6M486.7 177.4h.6M482.3 180.0h.6M480.1 176.7h.6M479.6 179.9h.6M486.1 177.6h.6M482.1 178.9h.6M483.8 175.8h.6M474.5 172.0h.6M471.9 178.1h.6M485.9 175.6h.6M483.6 178.1h.6M470.2 180.9h.6M485.8 176.9h.6M469.0 177.5h.6M484.3 178.4h.6M479.4 176.1h.6M476.6 177.2h.6M483.3 176.7h.6M474.5 180.3h.6M481.5 177.2h.6M486.7 174.9h.6M485.6 176.3h.6M470.7 181.7h.6M471.9 183.1h.6M478.5 180.1h.6M486.1 175.8h.6M481.4 179.7h.6M481.9 177.7h.6M474.6 178.6h.6M486.5 177.6h.6M486.8 178.2h.6M471.5 173.7h.6M477.1 173.2h.6M468.8 181.8h.6M485.0 178.1h.6M478.2 176.5h.6M484.5 175.7h.6M487.7 176.4h.6M477.2 180.8h.6M487.1 176.4h.6M470.8 179.6h.6M480.4 180.3h.6M477.1 177.9h.6M472.2 175.5h.6M480.6 177.5h.6M473.8 178.9h.6M477.8 176.3h.6M469.5 178.4h.6M484.1 176.8h.6M473.6 174.4h.6M479.5 175.8h.6M482.0 177.1h.6M486.6 177.6h.6M474.9 179.2h.6M481.8 175.6h.6M478.6 179.5h.6M481.2 177.5h.6M473.5 176.7h.6M484.7 178.0h.6M475.8 174.4h.6M476.7 176.6h.6M487.6 176.8h.6M481.5 177.0h.6M473.4 175.7h.6M468.5 183.1h.6M484.1 176.5h.6M473.5 177.6h.6M483.0 178.6h.6M480.2 180.6h.6M487.9 177.7h.6M468.9 178.8h.6M483.9 176.2h.6M484.2 178.3h.6M478.6 179.7h.6M473.2 175.4h.6M474.0 180.8h.6M481.4 178.8h.6M482.0 177.8h.6M480.7 176.4h.6M475.1 176.0h.6M475.8 179.1h.6M472.2 176.3h.6M483.6 175.8h.6M473.9 177.3h.6M486.0 176.8h.6M474.5 180.2h.6M480.0 180.3h.6M487.3 176.3h.6M475.3 178.3h.6M486.3 178.0h.6M475.0 181.5h.6M474.3 176.2h.6M476.2 176.5h.6M473.8 178.6h.6M475.0 180.6h.6M483.1 179.2h.6M484.3 177.2h.6M475.5 181.3h.6M480.9 179.9h.6M486.1 177.6h.6M473.6 181.4h.6M475.9 179.7h.6M472.6 178.6h.6M487.8 177.3h.6M469.2 176.4h.6M471.7 176.8h.6M484.4 177.7h.6M485.6 176.1h.6M483.8 179.0h.6M475.6 181.7h.6M475.8 180.5h.6M479.7 176.8h.6M471.0 180.5h.6M480.7 180.1h.6M470.7 172.1h.6M483.0 178.2h.6M477.1 186.0h.6M476.6 180.7h.6M478.3 177.0h.6M468.8 176.1h.6M485.5 176.8h.6M487.6 178.5h.6M487.3 177.4h.6M483.1 175.5h.6M486.7 177.2h.6M484.7 175.5h.6M486.7 175.5h.6M471.4 179.2h.6M471.7 176.4h.6M482.0 176.0h.6M477.1 181.9h.6M469.6 179.8h.6M470.7 183.4h.6M469.3 179.7h.6M478.6 178.3h.6M484.5 178.6h.6M477.3 176.8h.6M478.0 178.7h.6M486.1 177.0h.6M487.9 175.4h.6M475.4 176.2h.6M477.2 181.0h.6M478.5 174.0h.6M482.6 178.7h.6M474.9 176.8h.6M479.9 179.4h.6M472.1 181.7h.6M484.5 178.3h.6M470.8 181.5h.6M481.6 178.9h.6M479.1 180.4h.6M481.6 178.1h.6M478.7 176.7h.6M477.4 178.0h.6M480.0 177.4h.6M477.4 181.2h.6M470.4 181.4h.6M476.8 179.1h.6M476.2 175.5h.6M485.8 176.6h.6M474.6 177.6h.6M469.7 181.4h.6M473.9 181.1h.6M478.2 176.7h.6M484.4 176.0h.6M485.5 177.4h.6M487.8 176.6h.6M471.6 181.2h.6M469.9 177.0h.6M486.1 175.3h.6M481.0 178.2h.6M477.3 181.0h.6M483.2 176.3h.6M475.7 177.5h.6M477.6 180.5h.6M475.5 184.0h.6M487.2 177.1h.6M470.9 180.5h.6M479.7 181.5h.6M470.0 182.2h.6M478.2 182.8h.6M479.3 184.4h.6M485.0 183.7h.6M478.7 181.2h.6M472.7 181.5h.6M472.5 184.2h.6M475.8 183.5h.6M471.2 182.8h.6M470.1 182.1h.6M474.9 185.6h.6M482.1 184.8h.6M475.0 184.4h.6M482.4 184.4h.6M485.5 183.0h.6M472.2 188.1h.6M480.6 181.6h.6M474.7 181.2h.6M484.7 182.8h.6M474.3 182.8h.6M477.5 186.2h.6M471.5 183.3h.6M480.6 184.5h.6M477.8 188.7h.6M475.7 180.9h.6M469.1 181.1h.6M483.4 183.6h.6M477.9 182.6h.6M473.0 184.7h.6M472.8 186.8h.6M482.7 186.8h.6M480.9 185.7h.6M469.8 187.0h.6M468.7 183.4h.6M477.5 184.2h.6M483.4 184.5h.6M472.1 184.1h.6M486.7 180.9h.6M468.7 186.9h.6M486.7 181.1h.6M480.0 186.8h.6M473.1 190.4h.6M469.6 184.5h.6M486.7 186.7h.6M479.8 182.4h.6M472.6 185.2h.6M469.4 182.7h.6M479.2 180.9h.6M474.1 183.2h.6M485.7 184.4h.6M472.2 185.1h.6M480.1 186.4h.6M477.2 185.3h.6M470.9 181.2h.6M476.5 187.1h.6M478.0 182.3h.6M476.3 191.9h.6M468.7 181.4h.6M473.5 181.8h.6M470.3 189.7h.6M470.1 187.5h.6M473.0 186.1h.6M469.8 188.7h.6M480.7 182.1h.6M468.5 189.3h.6M468.6 180.8h.6M468.3 186.8h.6M468.4 188.2h.6M468.4 172.9h.6M468.3 170.6h.6M468.5 188.8h.6M468.4 168.7h.6M468.3 179.0h.6M468.2 182.5h.6M468.3 187.7h.6M468.3 174.2h.6M468.5 186.7h.6M468.8 187.8h.6M468.3 191.0h.6M468.6 179.9h.6M469.4 173.8h.6M476.5 174.6h.6M477.2 164.0h.6M480.3 170.0h.6M468.3 175.3h.6M478.1 172.3h.6M476.1 170.6h.6M477.1 173.7h.6M480.5 170.1h.6M474.0 173.6h.6M481.0 173.2h.6M470.7 170.8h.6M476.4 175.6h.6M476.6 169.7h.6M476.7 172.3h.6M481.9 169.4h.6M471.1 173.8h.6M472.1 174.3h.6M478.1 174.9h.6M475.9 173.3h.6M478.2 174.1h.6M474.7 173.6h.6M473.1 172.4h.6M474.0 174.9h.6M477.7 169.9h.6M474.7 175.1h.6M474.6 168.7h.6M474.2 165.2h.6M474.9 172.4h.6M477.7 170.2h.6M475.7 172.5h.6M475.0 164.9h.6M477.0 175.4h.6M480.0 172.0h.6M479.1 165.7h.6M472.4 173.4h.6M473.9 175.5h.6M475.1 166.3h.6M479.8 175.8h.6M479.0 173.0h.6M474.5 174.2h.6M470.9 167.3h.6M480.0 169.5h.6M478.0 174.4h.6M481.3 174.3h.6M472.1 172.5h.6M473.8 175.0h.6M479.8 168.5h.6M475.1 171.6h.6M470.0 171.0h.6M478.1 174.1h.6M473.9 175.3h.6M475.1 170.0h.6M474.7 169.6h.6M481.8 173.2h.6M476.5 170.7h.6M478.1 175.6h.6M475.8 169.8h.6M478.6 173.5h.6M477.6 172.7h.6M469.4 173.8h.6M474.3 168.2h.6M475.9 172.3h.6M473.8 171.0h.6M476.1 175.4h.6M480.2 172.8h.6M475.4 169.6h.6M478.1 173.4h.6M477.2 163.4h.6M479.4 174.1h.6M478.3 173.2h.6M476.0 170.1h.6M478.7 172.2h.6M481.1 175.0h.6M477.1 172.4h.6M473.0 174.0h.6M474.9 175.7h.6M470.6 174.2h.6M477.0 170.0h.6M472.0 170.8h.6M476.4 173.4h.6M471.4 173.3h.6M476.7 170.2h.6M476.7 164.0h.6M469.0 172.1h.6M474.6 174.8h.6M480.4 175.6h.6M473.1 169.5h.6M480.8 169.7h.6M477.6 173.8h.6M474.0 168.4h.6M483.8 172.3h.6M476.9 168.4h.6M476.5 168.7h.6M470.0 175.8h.6M475.5 174.8h.6M476.1 174.9h.6M476.0 169.5h.6M474.9 173.2h.6M482.1 165.9h.6M480.2 171.9h.6M479.4 172.4h.6M475.0 175.8h.6M475.4 175.9h.6M478.7 171.9h.6M473.0 172.1h.6M476.4 169.4h.6M471.8 169.7h.6M479.4 171.6h.6M478.3 171.6h.6M477.4 165.6h.6M475.2 169.4h.6M473.0 175.1h.6M473.9 167.4h.6M477.1 172.9h.6M471.5 174.5h.6M478.2 170.9h.6M473.7 171.7h.6M476.1 174.9h.6M476.7 166.1h.6M474.7 175.7h.6M475.4 174.0h.6M476.5 174.6h.6M469.6 173.9h.6M469.9 175.4h.6M476.1 168.5h.6M479.3 173.3h.6M472.1 175.0h.6M482.4 172.9h.6M477.8 162.8h.6M475.8 169.1h.6M478.7 174.0h.6M471.4 168.0h.6M475.2 165.3h.6M471.8 169.2h.6M478.5 175.3h.6M478.7 168.4h.6M484.2 171.3h.6M477.0 164.9h.6M484.2 168.7h.6M475.8 168.1h.6M475.0 173.4h.6M478.7 175.6h.6M470.4 172.9h.6M473.8 171.5h.6M471.2 171.7h.6M474.2 174.2h.6M475.1 172.6h.6M477.4 174.9h.6M476.5 174.4h.6M470.3 173.6h.6M474.2 174.4h.6M469.4 173.5h.6M474.0 171.7h.6M474.4 175.6h.6M477.6 171.6h.6M472.1 173.3h.6M474.8 175.4h.6M479.7 172.3h.6M476.7 170.8h.6M474.7 170.8h.6M473.3 171.9h.6M472.3 174.9h.6M472.5 163.0h.6M475.7 175.3h.6M474.0 173.4h.6M477.3 174.6h.6M474.2 170.6h.6M476.2 172.3h.6M475.8 173.6h.6M477.3 172.3h.6M475.7 175.7h.6M478.7 172.2h.6M477.3 175.5h.6M476.3 172.0h.6M470.9 175.6h.6M475.7 174.9h.6M483.0 172.9h.6M476.3 171.8h.6M469.2 172.0h.6M478.5 173.8h.6M475.1 173.2h.6M480.0 172.9h.6M471.5 172.6h.6M473.4 175.1h.6M476.0 171.1h.6M469.9 174.4h.6M474.9 175.6h.6M473.6 174.2h.6M477.6 170.5h.6M470.9 173.7h.6M472.8 172.6h.6M474.7 169.8h.6M473.4 175.4h.6M479.0 169.3h.6M479.3 174.9h.6M477.4 174.8h.6M480.5 172.2h.6M472.6 171.2h.6M471.2 174.5h.6M479.8 174.2h.6M477.9 174.8h.6M476.8 170.2h.6M481.4 174.8h.6M474.5 174.7h.6M480.2 174.8h.6M475.6 171.0h.6M478.1 174.4h.6M474.9 175.4h.6M473.2 171.1h.6M473.5 169.9h.6M482.6 172.1h.6M477.9 167.4h.6M474.1 168.0h.6M475.2 168.8h.6M474.4 168.4h.6M469.1 168.3h.6M474.6 174.7h.6M480.0 172.8h.6M476.6 175.3h.6M473.3 174.6h.6M471.9 169.4h.6M478.1 173.7h.6M475.7 175.3h.6M480.7 165.0h.6M475.9 171.8h.6M476.7 170.8h.6M476.3 172.0h.6M475.1 171.7h.6M478.1 173.3h.6M476.6 171.9h.6M476.8 170.2h.6M475.7 174.0h.6M476.9 170.0h.6M476.2 172.2h.6M475.2 173.5h.6M478.1 175.6h.6M471.7 175.8h.6M475.4 173.8h.6M477.4 172.7h.6M478.2 166.9h.6M481.5 170.3h.6M477.4 169.5h.6M474.6 168.7h.6M472.1 175.3h.6M476.5 170.4h.6M474.6 174.4h.6M475.1 175.8h.6M472.4 173.6h.6M473.5 172.1h.6M474.1 174.3h.6M482.8 175.3h.6M478.4 163.0h.6M476.5 173.5h.6M477.3 175.4h.6M474.4 169.0h.6M478.7 174.0h.6M469.8 168.7h.6M480.5 170.6h.6M480.6 166.4h.6M477.0 172.4h.6M476.1 172.8h.6M478.9 173.3h.6M476.3 171.7h.6M472.6 174.2h.6M474.2 170.8h.6M476.2 173.1h.6M477.4 169.4h.6M473.1 169.6h.6M475.4 168.6h.6M469.2 174.7h.6M475.1 174.0h.6M474.2 175.7h.6M477.5 169.8h.6M475.4 170.9h.6M476.6 171.3h.6M479.9 172.1h.6M475.0 170.4h.6M468.7 164.1h.6M471.1 171.8h.6M477.1 172.5h.6M476.5 175.5h.6M468.3 172.4h.6M478.8 166.5h.6M474.3 173.8h.6M476.2 170.6h.6M476.8 175.2h.6M473.6 173.5h.6M485.4 169.6h.6M476.0 169.6h.6M478.9 166.6h.6M479.3 174.3h.6M482.6 175.7h.6M476.8 174.3h.6M476.4 166.5h.6M481.6 171.4h.6M480.0 170.5h.6M476.6 173.9h.6M475.3 171.5h.6M473.9 171.8h.6M481.4 175.1h.6M474.1 174.7h.6M476.4 175.3h.6M480.5 164.0h.6M473.9 174.3h.6M474.4 173.9h.6M477.6 174.0h.6M474.7 175.4h.6M477.5 171.0h.6M472.7 175.5h.6M475.3 163.6h.6M476.3 175.6h.6M478.4 174.4h.6M474.5 173.3h.6M468.7 170.1h.6M473.9 169.6h.6M475.9 169.9h.6M471.9 173.7h.6M475.5 174.8h.6M480.6 174.0h.6M476.5 175.9h.6M481.8 171.8h.6M474.8 170.0h.6M474.7 175.5h.6M480.1 173.2h.6M473.1 170.4h.6M477.5 169.4h.6M475.3 173.4h.6M479.8 173.6h.6M479.2 175.7h.6M475.0 171.9h.6M475.6 169.0h.6M472.0 169.6h.6M476.7 175.0h.6M478.2 170.2h.6M475.4 174.6h.6M481.4 171.6h.6M475.7 175.7h.6M482.2 167.0h.6M471.1 175.9h.6M477.0 175.2h.6M475.1 171.6h.6M471.7 173.3h.6M478.8 174.8h.6M473.9 170.6h.6M480.2 173.3h.6M471.6 173.3h.6M477.1 175.9h.6M476.6 172.1h.6M472.3 170.7h.6M473.7 171.4h.6M473.8 172.2h.6M475.4 165.4h.6M477.5 175.6h.6M475.7 174.0h.6M477.5 172.0h.6M472.9 165.5h.6M476.9 175.7h.6M474.3 168.9h.6M476.7 170.4h.6M472.9 174.7h.6M475.7 167.6h.6M477.6 174.8h.6M475.1 168.8h.6M480.9 173.3h.6M475.1 173.1h.6M468.3 171.5h.6M472.0 175.2h.6M474.3 167.7h.6M477.1 174.5h.6M477.3 171.1h.6M471.7 174.2h.6M475.8 165.2h.6M472.7 169.0h.6M471.0 171.1h.6M478.4 174.2h.6M478.5 172.9h.6M478.8 169.5h.6M477.1 169.9h.6M469.8 175.7h.6M474.4 172.0h.6M472.6 171.0h.6M474.2 169.6h.6M478.3 169.8h.6M484.4 166.3h.6M473.9 171.8h.6M475.8 172.1h.6M471.1 172.3h.6M476.4 169.5h.6M478.3 175.5h.6M477.7 169.2h.6M476.2 172.6h.6M476.8 172.3h.6M475.2 175.4h.6M472.8 171.3h.6M477.7 170.5h.6M471.4 169.1h.6M477.3 172.1h.6M473.0 173.0h.6M472.1 173.0h.6M480.5 173.2h.6M477.8 172.3h.6M472.2 168.7h.6M475.3 171.4h.6M475.9 175.0h.6M475.5 175.1h.6M476.5 165.9h.6M475.5 174.4h.6M474.1 173.6h.6M473.5 173.6h.6M471.1 169.9h.6M472.3 174.9h.6M482.1 168.4h.6M474.2 174.0h.6M473.5 172.2h.6M477.4 167.6h.6M478.9 173.8h.6M472.1 166.8h.6M473.7 172.0h.6M477.1 173.7h.6M471.8 172.3h.6M475.7 174.7h.6M480.7 170.0h.6M482.4 165.9h.6M470.5 175.0h.6M479.7 172.5h.6M477.7 171.1h.6M477.5 168.4h.6M474.2 173.5h.6M477.8 174.5h.6M475.2 170.8h.6M470.2 165.6h.6M479.2 173.1h.6M473.0 170.3h.6M477.8 166.8h.6M474.5 172.7h.6M473.9 167.9h.6M476.0 171.9h.6M471.7 174.3h.6M476.3 172.4h.6M473.8 163.7h.6M477.3 173.7h.6M480.2 170.4h.6M477.3 175.7h.6M473.7 175.2h.6M470.4 169.0h.6M473.9 167.7h.6M473.8 173.7h.6M471.2 174.5h.6M473.8 173.7h.6M478.3 170.8h.6M471.1 172.2h.6M486.2 174.4h.6M476.1 175.0h.6M476.9 171.8h.6M474.7 169.0h.6M480.0 169.5h.6M474.7 171.2h.6M477.1 172.3h.6M475.0 170.7h.6M475.1 174.3h.6M477.2 167.7h.6M475.4 174.4h.6M476.2 173.6h.6M475.0 174.9h.6M475.0 174.4h.6M474.2 175.6h.6M479.2 175.7h.6M472.1 171.8h.6M477.4 172.2h.6M475.3 173.0h.6M475.1 172.0h.6M478.9 171.5h.6M469.0 171.9h.6M476.6 175.5h.6M475.1 168.4h.6M475.5 169.8h.6M474.6 171.8h.6M477.6 172.3h.6M474.9 168.7h.6M481.0 172.5h.6M483.2 168.3h.6M470.1 163.8h.6M471.5 164.8h.6M472.4 171.7h.6M476.0 175.2h.6M473.5 165.7h.6M477.3 178.8h.6M502.5 185.5h.6M480.8 189.1h.6M502.2 183.2h.6M498.8 186.7h.6M490.4 177.9h.6M486.5 191.3h.6M487.0 186.5h.6" stroke="#111" stroke-width="0.6" fill="none" opacity="0.75"/>
<rect x="467.20" y="161.20" width="52.40" height="31.90" fill="none" stroke="#666" stroke-width="0.9"/>
<line x1="467.2" y1="193.1" x2="519.6" y2="193.1" stroke="#333" stroke-width="1" stroke-dasharray="2.2 0.6"/>
<line x1="467.2" y1="161.2" x2="467.2" y2="193.1" stroke="#333" stroke-width="0.9" stroke-dasharray="1.4 0.7"/>
<text x="469.09999999999997" y="166.5" font-size="5.0" font-weight="bold" text-anchor="start" fill="#222" stroke="#222" stroke-width="0.18">8.52</text>
<text x="515.0" y="190.1" font-size="5.0" font-weight="bold" text-anchor="end" fill="#222" stroke="#222" stroke-width="0.18">0.62</text>
<line x1="408.1" y1="193.5" x2="408.1" y2="159" stroke="#111" stroke-width="1.3"/>
<path d="M405.6 159.8 L408.1 154.9 L410.6 159.8Z" fill="#111"/>
<line x1="412.3" y1="197.2" x2="441" y2="197.2" stroke="#111" stroke-width="1.3"/>
<path d="M440.4 194.7 L445.3 197.2 L440.4 199.7Z" fill="#111"/>
<text x="403.4" y="188.6" font-size="6.2" font-weight="bold" text-anchor="middle" fill="#111" stroke="#111" stroke-width="0.18" transform="rotate(-90 403.4 188.6)" letter-spacing="0.3">IFNγ</text>
<text x="416" y="205.7" font-size="6.3" font-weight="bold" text-anchor="start" fill="#111" stroke="#111" stroke-width="0.18">IL-17A</text>
<text x="2.2" y="237.3" font-size="11.5" font-weight="bold" text-anchor="start" fill="#111" stroke="#111" stroke-width="0.18">F</text>
<line x1="34.4" y1="229.1" x2="34.4" y2="305.0" stroke="#111" stroke-width="1"/>
<line x1="33.9" y1="304.5" x2="84.5" y2="304.5" stroke="#111" stroke-width="1"/>
<line x1="32.0" y1="229.6" x2="34.4" y2="229.6" stroke="#111" stroke-width="0.9"/>
<text x="31.6" y="231.47199999999998" font-size="5.2" font-weight="bold" text-anchor="end" fill="#111" stroke="#111" stroke-width="0.18">4000</text>
<line x1="32.0" y1="248.3" x2="34.4" y2="248.3" stroke="#111" stroke-width="0.9"/>
<text x="31.6" y="250.17200000000003" font-size="5.2" font-weight="bold" text-anchor="end" fill="#111" stroke="#111" stroke-width="0.18">3000</text>
<line x1="32.0" y1="267.0" x2="34.4" y2="267.0" stroke="#111" stroke-width="0.9"/>
<text x="31.6" y="268.872" font-size="5.2" font-weight="bold" text-anchor="end" fill="#111" stroke="#111" stroke-width="0.18">2000</text>
<line x1="32.0" y1="285.7" x2="34.4" y2="285.7" stroke="#111" stroke-width="0.9"/>
<text x="31.6" y="287.572" font-size="5.2" font-weight="bold" text-anchor="end" fill="#111" stroke="#111" stroke-width="0.18">1000</text>
<line x1="32.0" y1="304.5" x2="34.4" y2="304.5" stroke="#111" stroke-width="0.9"/>
<text x="31.6" y="306.372" font-size="5.2" font-weight="bold" text-anchor="end" fill="#111" stroke="#111" stroke-width="0.18">0</text>
<line x1="40.25" y1="270.8" x2="40.25" y2="266.4" stroke="#111" stroke-width="1.0"/>
<line x1="37.75" y1="266.4" x2="42.75" y2="266.4" stroke="#111" stroke-width="1.0"/>
<rect x="36.15" y="271.25" width="8.20" height="33.25" fill="#0a0a0a" stroke="#111" stroke-width="0.9"/>
<text x="52.8" y="300.6" font-size="6.4" font-weight="normal" text-anchor="middle" fill="#111" stroke="#111" stroke-width="0.18">ND</text>
<line x1="65.75" y1="284" x2="65.75" y2="283" stroke="#111" stroke-width="1.0"/>
<line x1="63.25" y1="283" x2="68.25" y2="283" stroke="#111" stroke-width="1.0"/>
<rect x="62.00" y="284.50" width="7.50" height="20.00" fill="#b4b4b4" stroke="#111" stroke-width="1.0"/>
<line x1="78.5" y1="253" x2="78.5" y2="249.2" stroke="#111" stroke-width="1.0"/>
<line x1="76.0" y1="249.2" x2="81.0" y2="249.2" stroke="#111" stroke-width="1.0"/>
<rect x="74.50" y="253.50" width="8.00" height="51.00" fill="#6e6e6e" stroke="#111" stroke-width="1.0"/>
<text x="15.9" y="267" font-size="6.3" font-weight="bold" text-anchor="middle" fill="#111" stroke="#111" stroke-width="0.18" transform="rotate(-90 15.9 267)">IL-17A (pg/ml)</text>
<rect x="19.40" y="307.60" width="76.20" height="36.60" fill="#fff" stroke="#666" stroke-width="1.0"/>
<rect x="22.70" y="311.90" width="8.10" height="3.60" fill="#0a0a0a" stroke="#111" stroke-width="1.1"/>
<text x="35.6" y="315.914" font-size="6.15" font-weight="normal" text-anchor="start" fill="#111" stroke="#111" stroke-width="0.15">G-CSF SP</text>
<rect x="22.70" y="320.60" width="8.10" height="3.60" fill="#fff" stroke="#111" stroke-width="1.1"/>
<text x="35.6" y="324.614" font-size="6.15" font-weight="normal" text-anchor="start" fill="#111" stroke="#111" stroke-width="0.15">G-CSF SP CD3 depl</text>
<rect x="22.70" y="329.30" width="8.10" height="3.60" fill="#b8b8b8" stroke="#111" stroke-width="1.1"/>
<text x="35.6" y="333.314" font-size="6.15" font-weight="normal" text-anchor="start" fill="#111" stroke="#111" stroke-width="0.15">G-CSF SP CD4 depl</text>
<rect x="22.70" y="338.00" width="8.10" height="3.60" fill="#6e6e6e" stroke="#111" stroke-width="1.1"/>
<text x="35.6" y="342.014" font-size="6.15" font-weight="normal" text-anchor="start" fill="#111" stroke="#111" stroke-width="0.15">G-CSF SP CD8 depl</text>
<text x="123.3" y="236.4" font-size="11.5" font-weight="bold" text-anchor="start" fill="#111" stroke="#111" stroke-width="0.18">G</text>
<line x1="164.3" y1="230.4" x2="164.3" y2="268.8" stroke="#111" stroke-width="1"/>
<line x1="164.3" y1="274.6" x2="164.3" y2="313.7" stroke="#111" stroke-width="1"/>
<line x1="163.8" y1="313.2" x2="247" y2="313.2" stroke="#111" stroke-width="1"/>
<line x1="161.9" y1="236.2" x2="164.3" y2="236.2" stroke="#111" stroke-width="0.9"/>
<text x="161.60000000000002" y="238.29999999999998" font-size="5.9" font-weight="bold" text-anchor="end" fill="#111" stroke="#111" stroke-width="0.18">6000</text>
<line x1="161.9" y1="247.2" x2="164.3" y2="247.2" stroke="#111" stroke-width="0.9"/>
<text x="161.60000000000002" y="249.29999999999998" font-size="5.9" font-weight="bold" text-anchor="end" fill="#111" stroke="#111" stroke-width="0.18">4000</text>
<line x1="161.9" y1="258.2" x2="164.3" y2="258.2" stroke="#111" stroke-width="0.9"/>
<text x="161.60000000000002" y="260.3" font-size="5.9" font-weight="bold" text-anchor="end" fill="#111" stroke="#111" stroke-width="0.18">2000</text>
<line x1="161.9" y1="268.6" x2="164.3" y2="268.6" stroke="#111" stroke-width="0.9"/>
<line x1="161.9" y1="274.8" x2="164.3" y2="274.8" stroke="#111" stroke-width="0.9"/>
<line x1="161.9" y1="282.8" x2="164.3" y2="282.8" stroke="#111" stroke-width="0.9"/>
<text x="161.60000000000002" y="284.90000000000003" font-size="5.9" font-weight="bold" text-anchor="end" fill="#111" stroke="#111" stroke-width="0.18">60</text>
<line x1="161.9" y1="293" x2="164.3" y2="293" stroke="#111" stroke-width="0.9"/>
<text x="161.60000000000002" y="295.1" font-size="5.9" font-weight="bold" text-anchor="end" fill="#111" stroke="#111" stroke-width="0.18">40</text>
<line x1="161.9" y1="303.1" x2="164.3" y2="303.1" stroke="#111" stroke-width="0.9"/>
<text x="161.60000000000002" y="305.20000000000005" font-size="5.9" font-weight="bold" text-anchor="end" fill="#111" stroke="#111" stroke-width="0.18">20</text>
<line x1="161.9" y1="313.2" x2="164.3" y2="313.2" stroke="#111" stroke-width="0.9"/>
<text x="161.60000000000002" y="315.3" font-size="5.9" font-weight="bold" text-anchor="end" fill="#111" stroke="#111" stroke-width="0.18">0</text>
<rect x="170.95" y="312.95" width="4.10" height="0.25" fill="#fff" stroke="#111" stroke-width="0.9"/>
<line x1="178.4" y1="310.8" x2="178.4" y2="308" stroke="#111" stroke-width="1.0"/>
<line x1="176.15" y1="308" x2="180.65" y2="308" stroke="#111" stroke-width="1.0"/>
<rect x="175.95" y="311.25" width="4.90" height="1.95" fill="#0a0a0a" stroke="#111" stroke-width="0.9"/>
<line x1="198.85000000000002" y1="294.2" x2="198.85000000000002" y2="280.7" stroke="#111" stroke-width="1.0"/>
<line x1="196.60000000000002" y1="280.7" x2="201.10000000000002" y2="280.7" stroke="#111" stroke-width="1.0"/>
<rect x="196.35" y="294.65" width="5.00" height="18.55" fill="#0a0a0a" stroke="#111" stroke-width="0.9"/>
<rect x="210.25" y="312.45" width="4.90" height="0.75" fill="#fff" stroke="#111" stroke-width="0.9"/>
<rect x="216.75" y="274.85" width="5.30" height="38.35" fill="#0a0a0a" stroke="#111" stroke-width="0.9"/>
<rect x="216.3" y="267.9" width="6.2" height="1.5" rx="0.5" fill="#111"/>
<rect x="229.80" y="274.90" width="4.70" height="38.30" fill="#fff" stroke="#111" stroke-width="1.0"/>
<path d="M229.8 269.5 V267.7 Q229.8 266.5 231 266.5 H233.3 Q234.5 266.5 234.5 267.7 V269.5" fill="#fff" stroke="#111" stroke-width="0.9"/>
<rect x="236.85" y="274.85" width="5.70" height="38.35" fill="#0a0a0a" stroke="#111" stroke-width="0.9"/>
<line x1="239.7" y1="242" x2="239.7" y2="233.6" stroke="#111" stroke-width="1.0"/>
<line x1="237.45" y1="233.6" x2="241.95" y2="233.6" stroke="#111" stroke-width="1.0"/>
<rect x="236.85" y="242.45" width="5.70" height="26.85" fill="#0a0a0a" stroke="#111" stroke-width="0.9"/>
<text x="174.3" y="322.6" font-size="7" font-weight="bold" text-anchor="middle" fill="#111" stroke="#111" stroke-width="0.18">6</text>
<text x="195.1" y="322.6" font-size="7" font-weight="bold" text-anchor="middle" fill="#111" stroke="#111" stroke-width="0.18">12</text>
<text x="215.6" y="322.6" font-size="7" font-weight="bold" text-anchor="middle" fill="#111" stroke="#111" stroke-width="0.18">24</text>
<text x="236.3" y="322.6" font-size="7" font-weight="bold" text-anchor="middle" fill="#111" stroke="#111" stroke-width="0.18">72</text>
<line x1="174.2" y1="313.2" x2="174.2" y2="315.4" stroke="#111" stroke-width="0.9"/>
<line x1="194.5" y1="313.2" x2="194.5" y2="315.4" stroke="#111" stroke-width="0.9"/>
<line x1="214.5" y1="313.2" x2="214.5" y2="315.4" stroke="#111" stroke-width="0.9"/>
<line x1="234.5" y1="313.2" x2="234.5" y2="315.4" stroke="#111" stroke-width="0.9"/>
<text x="204.6" y="331.2" font-size="6.7" font-weight="bold" text-anchor="middle" fill="#111" stroke="#111" stroke-width="0.18">Time in culture (Hours)</text>
<text x="140.9" y="271.3" font-size="6.7" font-weight="bold" text-anchor="middle" fill="#111" stroke="#111" stroke-width="0.18" transform="rotate(-90 140.9 271.3)">IL-17A (pg/ml)</text>
<rect x="170.80" y="227.30" width="58.60" height="19.70" fill="#fff" stroke="#666" stroke-width="1.0"/>
<rect x="174.80" y="231.20" width="8.20" height="3.60" fill="#fff" stroke="#111" stroke-width="1.1"/>
<text x="187.6" y="235.124" font-size="5.9" font-weight="normal" text-anchor="start" fill="#111" stroke="#111" stroke-width="0.15">Control BALB/c</text>
<rect x="174.80" y="240.20" width="8.20" height="3.60" fill="#0a0a0a" stroke="#111" stroke-width="1.1"/>
<text x="187.6" y="244.124" font-size="5.9" font-weight="normal" text-anchor="start" fill="#111" stroke="#111" stroke-width="0.15">G-CSF BALB/c</text>
<line x1="288.6" y1="230.7" x2="288.6" y2="313.7" stroke="#111" stroke-width="1"/>
<line x1="288.1" y1="313.2" x2="371.8" y2="313.2" stroke="#111" stroke-width="1"/>
<line x1="286.20000000000005" y1="231.2" x2="288.6" y2="231.2" stroke="#111" stroke-width="0.9"/>
<text x="285.80000000000007" y="233.072" font-size="5.2" font-weight="bold" text-anchor="end" fill="#111" stroke="#111" stroke-width="0.18">800</text>
<line x1="286.20000000000005" y1="251.6" x2="288.6" y2="251.6" stroke="#111" stroke-width="0.9"/>
<text x="285.80000000000007" y="253.47199999999998" font-size="5.2" font-weight="bold" text-anchor="end" fill="#111" stroke="#111" stroke-width="0.18">600</text>
<line x1="286.20000000000005" y1="272" x2="288.6" y2="272" stroke="#111" stroke-width="0.9"/>
<text x="285.80000000000007" y="273.872" font-size="5.2" font-weight="bold" text-anchor="end" fill="#111" stroke="#111" stroke-width="0.18">400</text>
<line x1="286.20000000000005" y1="292.5" x2="288.6" y2="292.5" stroke="#111" stroke-width="0.9"/>
<text x="285.80000000000007" y="294.372" font-size="5.2" font-weight="bold" text-anchor="end" fill="#111" stroke="#111" stroke-width="0.18">200</text>
<line x1="286.20000000000005" y1="313.2" x2="288.6" y2="313.2" stroke="#111" stroke-width="0.9"/>
<text x="285.80000000000007" y="315.072" font-size="5.2" font-weight="bold" text-anchor="end" fill="#111" stroke="#111" stroke-width="0.18">0</text>
<rect x="292.95" y="312.85" width="5.10" height="0.35" fill="#fff" stroke="#111" stroke-width="0.9"/>
<rect x="299.8" y="309.2" width="6" height="4.2" rx="1.4" fill="#111"/>
<rect x="313.85" y="312.25" width="5.30" height="0.95" fill="#fff" stroke="#111" stroke-width="0.9"/>
<line x1="323.3" y1="301" x2="323.3" y2="297.8" stroke="#111" stroke-width="1.0"/>
<line x1="321.05" y1="297.8" x2="325.55" y2="297.8" stroke="#111" stroke-width="1.0"/>
<rect x="320.75" y="301.45" width="5.10" height="11.75" fill="#0a0a0a" stroke="#111" stroke-width="0.9"/>
<rect x="334.15" y="310.35" width="4.90" height="2.85" fill="#fff" stroke="#111" stroke-width="0.9"/>
<line x1="344.1" y1="290.6" x2="344.1" y2="284" stroke="#111" stroke-width="1.0"/>
<line x1="341.85" y1="284" x2="346.35" y2="284" stroke="#111" stroke-width="1.0"/>
<rect x="341.65" y="291.05" width="4.90" height="22.15" fill="#0a0a0a" stroke="#111" stroke-width="0.9"/>
<line x1="357.1" y1="297" x2="357.1" y2="294.2" stroke="#111" stroke-width="1.0"/>
<line x1="354.85" y1="294.2" x2="359.35" y2="294.2" stroke="#111" stroke-width="1.0"/>
<rect x="354.90" y="297.50" width="4.40" height="15.70" fill="#fff" stroke="#111" stroke-width="1.0"/>
<line x1="365.0" y1="240" x2="365.0" y2="231.3" stroke="#111" stroke-width="1.0"/>
<line x1="362.75" y1="231.3" x2="367.25" y2="231.3" stroke="#111" stroke-width="1.0"/>
<rect x="362.45" y="240.45" width="5.10" height="72.75" fill="#0a0a0a" stroke="#111" stroke-width="0.9"/>
<text x="299" y="322.6" font-size="7" font-weight="bold" text-anchor="middle" fill="#111" stroke="#111" stroke-width="0.18">6</text>
<text x="320.3" y="322.6" font-size="7" font-weight="bold" text-anchor="middle" fill="#111" stroke="#111" stroke-width="0.18">12</text>
<text x="341.2" y="322.6" font-size="7" font-weight="bold" text-anchor="middle" fill="#111" stroke="#111" stroke-width="0.18">24</text>
<text x="361" y="322.6" font-size="7" font-weight="bold" text-anchor="middle" fill="#111" stroke="#111" stroke-width="0.18">72</text>
<line x1="299.2" y1="313.2" x2="299.2" y2="315.4" stroke="#111" stroke-width="0.9"/>
<line x1="319.3" y1="313.2" x2="319.3" y2="315.4" stroke="#111" stroke-width="0.9"/>
<line x1="339.3" y1="313.2" x2="339.3" y2="315.4" stroke="#111" stroke-width="0.9"/>
<line x1="359.6" y1="313.2" x2="359.6" y2="315.4" stroke="#111" stroke-width="0.9"/>
<text x="329" y="331.2" font-size="6.7" font-weight="bold" text-anchor="middle" fill="#111" stroke="#111" stroke-width="0.18">Time in culture (Hours)</text>
<text x="268.2" y="272.4" font-size="6.7" font-weight="bold" text-anchor="middle" fill="#111" stroke="#111" stroke-width="0.18" transform="rotate(-90 268.2 272.4)">IL-17F (pg/ml)</text>
<rect x="295.60" y="228.50" width="61.70" height="18.80" fill="#fff" stroke="#666" stroke-width="1.0"/>
<rect x="299.20" y="231.50" width="9.40" height="3.60" fill="#fff" stroke="#111" stroke-width="1.1"/>
<text x="313" y="235.442" font-size="5.95" font-weight="normal" text-anchor="start" fill="#111" stroke="#111" stroke-width="0.15">Control BALB/c</text>
<rect x="299.20" y="240.70" width="9.40" height="3.60" fill="#0a0a0a" stroke="#111" stroke-width="1.1"/>
<text x="313" y="244.642" font-size="5.95" font-weight="normal" text-anchor="start" fill="#111" stroke="#111" stroke-width="0.15">G-CSF BALB/c</text>
<text x="405.4" y="234.2" font-size="11.5" font-weight="bold" text-anchor="start" fill="#111" stroke="#111" stroke-width="0.18">H</text>
<line x1="451" y1="229.0" x2="451" y2="309.9" stroke="#111" stroke-width="1"/>
<line x1="450.5" y1="309.4" x2="504.3" y2="309.4" stroke="#111" stroke-width="1"/>
<line x1="448.8" y1="229.5" x2="451" y2="229.5" stroke="#111" stroke-width="0.9"/>
<text x="448.40000000000003" y="231.48" font-size="5.5" font-weight="bold" text-anchor="end" fill="#111" stroke="#111" stroke-width="0.18">7500</text>
<line x1="448.8" y1="256.2" x2="451" y2="256.2" stroke="#111" stroke-width="0.9"/>
<text x="448.40000000000003" y="258.18" font-size="5.5" font-weight="bold" text-anchor="end" fill="#111" stroke="#111" stroke-width="0.18">5000</text>
<line x1="448.8" y1="282.9" x2="451" y2="282.9" stroke="#111" stroke-width="0.9"/>
<text x="448.40000000000003" y="284.88" font-size="5.5" font-weight="bold" text-anchor="end" fill="#111" stroke="#111" stroke-width="0.18">2500</text>
<line x1="448.8" y1="309.4" x2="451" y2="309.4" stroke="#111" stroke-width="0.9"/>
<text x="448.40000000000003" y="311.38" font-size="5.5" font-weight="bold" text-anchor="end" fill="#111" stroke="#111" stroke-width="0.18">0</text>
<line x1="457.85" y1="305" x2="457.85" y2="304.2" stroke="#111" stroke-width="1.0"/>
<line x1="455.35" y1="304.2" x2="460.35" y2="304.2" stroke="#111" stroke-width="1.0"/>
<rect x="453.45" y="305.45" width="8.80" height="3.95" fill="#0a0a0a" stroke="#111" stroke-width="0.9"/>
<line x1="471.1" y1="301" x2="471.1" y2="299.6" stroke="#111" stroke-width="1.0"/>
<line x1="468.6" y1="299.6" x2="473.6" y2="299.6" stroke="#111" stroke-width="1.0"/>
<rect x="466.75" y="301.45" width="8.70" height="7.95" fill="#0a0a0a" stroke="#111" stroke-width="0.9"/>
<line x1="484.25" y1="295.2" x2="484.25" y2="293.4" stroke="#111" stroke-width="1.0"/>
<line x1="481.75" y1="293.4" x2="486.75" y2="293.4" stroke="#111" stroke-width="1.0"/>
<rect x="479.85" y="295.65" width="8.80" height="13.75" fill="#0a0a0a" stroke="#111" stroke-width="0.9"/>
<line x1="497.70000000000005" y1="256.7" x2="497.70000000000005" y2="240" stroke="#111" stroke-width="1.0"/>
<line x1="495.20000000000005" y1="240" x2="500.20000000000005" y2="240" stroke="#111" stroke-width="1.0"/>
<rect x="493.25" y="257.15" width="8.90" height="52.25" fill="#0a0a0a" stroke="#111" stroke-width="0.9"/>
<text x="459.6" y="315.5" font-size="6.5" font-weight="bold" text-anchor="end" fill="#111" stroke="#111" stroke-width="0.18" transform="rotate(-45 459.6 315.5)">0</text>
<text x="473" y="315.7" font-size="6.5" font-weight="bold" text-anchor="end" fill="#111" stroke="#111" stroke-width="0.18" transform="rotate(-45 473 315.7)">0.4</text>
<text x="485.8" y="315.5" font-size="6.5" font-weight="bold" text-anchor="end" fill="#111" stroke="#111" stroke-width="0.18" transform="rotate(-45 485.8 315.5)">2</text>
<text x="499.8" y="315.7" font-size="6.5" font-weight="bold" text-anchor="end" fill="#111" stroke="#111" stroke-width="0.18" transform="rotate(-45 499.8 315.7)">10</text>
<text x="474" y="333.6" font-size="5.9" font-weight="bold" text-anchor="middle" fill="#111" stroke="#111" stroke-width="0.18">G-CSF dose (µg/day)</text>
<text x="429.6" y="269.6" font-size="6.5" font-weight="bold" text-anchor="middle" fill="#111" stroke="#111" stroke-width="0.18" transform="rotate(-90 429.6 269.6)">IL-17A (pg/ml)</text>
</svg>
</body></html>
